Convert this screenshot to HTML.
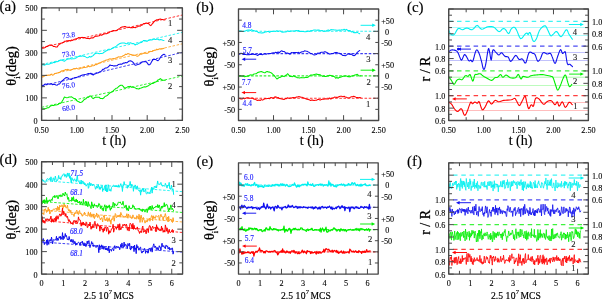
<!DOCTYPE html>
<html><head><meta charset="utf-8"><style>
html,body{margin:0;padding:0;background:#fff;overflow:hidden;}
svg{display:block;-webkit-font-smoothing:antialiased;will-change:transform;filter:blur(0.25px);}
</style></head><body>
<svg width="602" height="299" viewBox="0 0 602 299">
<rect width="602" height="299" fill="#fff"/>
<line x1="41.6" y1="47.6" x2="182.4" y2="15" stroke="#ff0000" stroke-width="1.0" stroke-dasharray="2.6 1.6" stroke-dashoffset="0" opacity="0.8"/>
<line x1="41.6" y1="64.5" x2="182.4" y2="32.4" stroke="#00f0f0" stroke-width="1.0" stroke-dasharray="2.6 1.6" stroke-dashoffset="0" opacity="0.8"/>
<line x1="41.6" y1="76.6" x2="182.4" y2="43.8" stroke="#ffa020" stroke-width="1.0" stroke-dasharray="2.6 1.6" stroke-dashoffset="0" opacity="0.8"/>
<line x1="41.6" y1="86" x2="182.4" y2="52.4" stroke="#1010ee" stroke-width="1.0" stroke-dasharray="2.6 1.6" stroke-dashoffset="0" opacity="0.8"/>
<line x1="41.6" y1="107.3" x2="182.4" y2="76" stroke="#00ee00" stroke-width="1.0" stroke-dasharray="2.6 1.6" stroke-dashoffset="0" opacity="0.8"/>
<polyline points="41.6,48.05 42.8,48.14 44,47.94 45.2,47.47 46.4,46.5 47.6,46.37 48.8,45.47 50,44.91 51.2,44.97 52.4,45.57 53.6,46.51 54.8,46.53 56,47.1 57.2,47.04 58.4,44.97 59.6,44.4 60.8,43.33 62,42.9 63.2,42.52 64.4,41.33 65.6,41.23 66.8,40.78 68,40.86 69.2,40.46 70.4,40.85 71.6,39.92 72.8,40.28 74,39.28 75.2,39.1 76.4,38.65 77.6,38.26 78.8,37.57 80,37.7 81.2,37.51 82.4,37.39 83.6,37.63 84.8,37.49 86,38.2 87.2,38.56 88.4,38.38 89.6,38.78 90.8,38.06 92,37.73 93.2,37.91 94.4,36.8 95.6,36.33 96.8,36.23 98,35.92 99.2,35.75 100.4,34.76 101.6,35.22 102.8,34.44 104,33.91 105.2,33.65 106.4,33.82 107.6,33.21 108.8,32.85 110,31.72 111.2,31.56 112.4,31.04 113.6,30.52 114.8,30.74 116,30.82 117.2,30.21 118.4,29.02 119.6,28.78 120.8,27.39 122,27.02 123.2,26.89 124.4,26.57 125.6,26.64 126.8,27.34 128,27.25 129.2,27.23 130.4,27.69 131.6,27.52 132.8,27.76 134,27.37 135.2,27.8 136.4,27.06 137.6,26.83 138.8,25.87 140,26.25 141.2,25.38 142.4,24.89 143.6,23.63 144.8,23.62 146,22.98 147.2,23.37 148.4,23.25 149.6,24.87 150.8,25.69 152,24.21 153.2,22.89 154.4,21.24 155.6,20.44 156.8,19.76 158,19.72 159.2,19.24 160.4,18.98 161.6,19.43 162.8,19.42 164,19.96 165.2,19.69" fill="none" stroke="#ff0000" stroke-width="1.05" stroke-linejoin="round" stroke-linecap="round" />
<polyline points="41.6,65.16 42.8,64.55 44,65.11 45.2,64.9 46.4,64.3 47.6,64.18 48.8,64.23 50,63.72 51.2,63.34 52.4,63.08 53.6,62.36 54.8,62.64 56,61.56 57.2,61.67 58.4,61.32 59.6,60.54 60.8,60.12 62,59.9 63.2,60.81 64.4,61.25 65.6,60.4 66.8,59.46 68,59.03 69.2,59.02 70.4,58.52 71.6,58.91 72.8,58.68 74,58.66 75.2,58.39 76.4,57.82 77.6,56.81 78.8,56.54 80,56.28 81.2,56.35 82.4,55.75 83.6,56.32 84.8,56.39 86,57.14 87.2,57.67 88.4,57.44 89.6,56.5 90.8,57.12 92,56.21 93.2,55.61 94.4,54.06 95.6,53.43 96.8,53.33 98,53.29 99.2,53.7 100.4,53.51 101.6,53.43 102.8,53.27 104,52.22 105.2,51.5 106.4,50.73 107.6,50.29 108.8,49.62 110,49.65 111.2,49.06 112.4,48.27 113.6,47.49 114.8,47.1 116,46.49 117.2,45.24 118.4,44.49 119.6,43.62 120.8,43.28 122,43.02 123.2,42.92 124.4,42.99 125.6,43.58 126.8,43.78 128,42.75 129.2,43.21 130.4,42.8 131.6,43.31 132.8,43.41 134,43.87 135.2,45 136.4,44.16 137.6,44.13 138.8,43.2 140,42.68 141.2,42.57 142.4,41.76 143.6,40.44 144.8,40.58 146,41.12 147.2,41.2 148.4,40.4 149.6,40.05 150.8,39.66 152,40.04 153.2,39.15 154.4,39.14 155.6,39.41 156.8,39.33 158,39.3 159.2,39.92 160.4,39.51 161.6,39.74 162.8,40.15 164,40.47" fill="none" stroke="#00f0f0" stroke-width="1.05" stroke-linejoin="round" stroke-linecap="round" />
<polyline points="41.6,76.99 42.8,77.1 44,76.39 45.2,75.45 46.4,75.29 47.6,75.5 48.8,75.09 50,75.32 51.2,74.18 52.4,75.13 53.6,74.79 54.8,73.49 56,73.51 57.2,73.05 58.4,72.64 59.6,72.48 60.8,71.47 62,70.73 63.2,70.62 64.4,70.32 65.6,69.5 66.8,69.73 68,69.35 69.2,70.11 70.4,70.37 71.6,69.69 72.8,69.3 74,68.51 75.2,68.86 76.4,68.14 77.6,68.83 78.8,68.94 80,68.63 81.2,68.06 82.4,67.96 83.6,67.4 84.8,67.49 86,67.3 87.2,67.03 88.4,66 89.6,66.68 90.8,66.48 92,65.82 93.2,65.84 94.4,65.57 95.6,64.21 96.8,64.65 98,63.68 99.2,62.93 100.4,62.8 101.6,61.99 102.8,61.58 104,60.9 105.2,60.52 106.4,59.91 107.6,59.72 108.8,59.23 110,58.86 111.2,59.34 112.4,58.74 113.6,58.56 114.8,58.66 116,58.03 117.2,57.51 118.4,56.84 119.6,57.09 120.8,56.65 122,56.46 123.2,55.72 124.4,55.22 125.6,54.15 126.8,54.46 128,53.53 129.2,53.9 130.4,54.45 131.6,54.64 132.8,54.9 134,55.39 135.2,55.07 136.4,55.94 137.6,56.28 138.8,55.61 140,54.02 141.2,54.34 142.4,53.85 143.6,53.18 144.8,52.92 146,53.16 147.2,53.41 148.4,52.71 149.6,51.75 150.8,51.59 152,51.47 153.2,50.74 154.4,50.27 155.6,50.23 156.8,49.14 158,49.67 159.2,48.88 160.4,49.06 161.6,48.99 162.8,48.65 164,48.3" fill="none" stroke="#ffa020" stroke-width="1.05" stroke-linejoin="round" stroke-linecap="round" />
<polyline points="41.6,87.13 42.8,85.34 44,84.99 45.2,83.91 46.4,84.45 47.6,83.68 48.8,84.01 50,84.12 51.2,83.71 52.4,84.69 53.6,84.15 54.8,84.54 56,84.98 57.2,85.15 58.4,84.02 59.6,83.93 60.8,82.24 62,80.86 63.2,79.98 64.4,78.9 65.6,77.84 66.8,77.44 68,77.94 69.2,79.05 70.4,79.16 71.6,79.45 72.8,78.18 74,77.96 75.2,77.42 76.4,77.53 77.6,77.11 78.8,76.32 80,76.09 81.2,75.55 82.4,74.99 83.6,74.87 84.8,74.44 86,74.33 87.2,74.1 88.4,73.54 89.6,73.76 90.8,73.21 92,74.24 93.2,74.98 94.4,74.02 95.6,73.66 96.8,73.08 98,72.99 99.2,72.04 100.4,71.65 101.6,70.91 102.8,69.39 104,69.19 105.2,68.01 106.4,67.92 107.6,67.43 108.8,66.54 110,64.93 111.2,65.55 112.4,65.41 113.6,66.06 114.8,65.86 116,65.69 117.2,65.66 118.4,64.44 119.6,64.19 120.8,64.04 122,64.19 123.2,63.11 124.4,63.12 125.6,62.46 126.8,62.86 128,61.79 129.2,60.95 130.4,60.81 131.6,61.18 132.8,62.2 134,63.47 135.2,65.24 136.4,64.97 137.6,64.62 138.8,64.17 140,63.8 141.2,62.85 142.4,61.86 143.6,61.79 144.8,61.65 146,61.59 147.2,62.92 148.4,64.65 149.6,64.83 150.8,63.35 152,61.1 153.2,59.36 154.4,59.32 155.6,59.47 156.8,60.17 158,60.75 159.2,59.49 160.4,57.24 161.6,55.75 162.8,54.84 164,54.29 165.2,55.11" fill="none" stroke="#1010ee" stroke-width="1.05" stroke-linejoin="round" stroke-linecap="round" />
<polyline points="41.6,108.77 42.8,109 44,108.75 45.2,108.72 46.4,108.24 47.6,107.7 48.8,107.77 50,106.4 51.2,105.81 52.4,105.37 53.6,105.6 54.8,105.03 56,104.9 57.2,104.81 58.4,104.3 59.6,103.2 60.8,103.29 62,101.48 63.2,99.41 64.4,96.94 65.6,97.42 66.8,97.82 68,97.39 69.2,96.92 70.4,96.93 71.6,96.83 72.8,97.67 74,98.57 75.2,98.52 76.4,100.24 77.6,101.22 78.8,101.73 80,102.46 81.2,102.23 82.4,101.78 83.6,100.1 84.8,99.27 86,98.72 87.2,97.32 88.4,97.33 89.6,96.03 90.8,95.92 92,97.54 93.2,98.63 94.4,97.77 95.6,97.12 96.8,97.28 98,97.19 99.2,97.19 100.4,98.53 101.6,98.6 102.8,98.63 104,97.74 105.2,96.26 106.4,95.88 107.6,95.2 108.8,93.94 110,92.91 111.2,92.23 112.4,91.83 113.6,90.37 114.8,89.41 116,88.29 117.2,88.06 118.4,86.76 119.6,85.83 120.8,85.23 122,85.23 123.2,86.33 124.4,87.9 125.6,87.69 126.8,87.43 128,86.62 129.2,86.85 130.4,86.3 131.6,87.24 132.8,86.85 134,87.53 135.2,87.84 136.4,88.63 137.6,88.79 138.8,89.05 140,88.23 141.2,87.94 142.4,87.44 143.6,87.06 144.8,86.75 146,86.92 147.2,86.2 148.4,85.68 149.6,84.8 150.8,84.17 152,83.4 153.2,83.46 154.4,82.48 155.6,81.95 156.8,81.08 158,79.95 159.2,79.51 160.4,78.56 161.6,79.74 162.8,80.11 164,80.34 165.2,80.28" fill="none" stroke="#00ee00" stroke-width="1.05" stroke-linejoin="round" stroke-linecap="round" />
<rect x="41.6" y="7.8" width="140.8" height="112.6" fill="none" stroke="#484848" stroke-width="1.35" stroke-linejoin="round"/>
<line x1="41.6" y1="120.4" x2="41.6" y2="115.1" stroke="#484848" stroke-width="1.0" />
<line x1="41.6" y1="7.8" x2="41.6" y2="13.1" stroke="#484848" stroke-width="1.0" />
<line x1="76.8" y1="120.4" x2="76.8" y2="115.1" stroke="#484848" stroke-width="1.0" />
<line x1="76.8" y1="7.8" x2="76.8" y2="13.1" stroke="#484848" stroke-width="1.0" />
<line x1="112" y1="120.4" x2="112" y2="115.1" stroke="#484848" stroke-width="1.0" />
<line x1="112" y1="7.8" x2="112" y2="13.1" stroke="#484848" stroke-width="1.0" />
<line x1="147.2" y1="120.4" x2="147.2" y2="115.1" stroke="#484848" stroke-width="1.0" />
<line x1="147.2" y1="7.8" x2="147.2" y2="13.1" stroke="#484848" stroke-width="1.0" />
<line x1="182.4" y1="120.4" x2="182.4" y2="115.1" stroke="#484848" stroke-width="1.0" />
<line x1="182.4" y1="7.8" x2="182.4" y2="13.1" stroke="#484848" stroke-width="1.0" />
<line x1="59.2" y1="120.4" x2="59.2" y2="117.1" stroke="#484848" stroke-width="1.0" />
<line x1="59.2" y1="7.8" x2="59.2" y2="11.1" stroke="#484848" stroke-width="1.0" />
<line x1="94.4" y1="120.4" x2="94.4" y2="117.1" stroke="#484848" stroke-width="1.0" />
<line x1="94.4" y1="7.8" x2="94.4" y2="11.1" stroke="#484848" stroke-width="1.0" />
<line x1="129.6" y1="120.4" x2="129.6" y2="117.1" stroke="#484848" stroke-width="1.0" />
<line x1="129.6" y1="7.8" x2="129.6" y2="11.1" stroke="#484848" stroke-width="1.0" />
<line x1="164.8" y1="120.4" x2="164.8" y2="117.1" stroke="#484848" stroke-width="1.0" />
<line x1="164.8" y1="7.8" x2="164.8" y2="11.1" stroke="#484848" stroke-width="1.0" />
<line x1="41.6" y1="120.4" x2="46.9" y2="120.4" stroke="#484848" stroke-width="1.0" />
<line x1="182.4" y1="120.4" x2="177.1" y2="120.4" stroke="#484848" stroke-width="1.0" />
<line x1="41.6" y1="97.88" x2="46.9" y2="97.88" stroke="#484848" stroke-width="1.0" />
<line x1="182.4" y1="97.88" x2="177.1" y2="97.88" stroke="#484848" stroke-width="1.0" />
<line x1="41.6" y1="75.36" x2="46.9" y2="75.36" stroke="#484848" stroke-width="1.0" />
<line x1="182.4" y1="75.36" x2="177.1" y2="75.36" stroke="#484848" stroke-width="1.0" />
<line x1="41.6" y1="52.84" x2="46.9" y2="52.84" stroke="#484848" stroke-width="1.0" />
<line x1="182.4" y1="52.84" x2="177.1" y2="52.84" stroke="#484848" stroke-width="1.0" />
<line x1="41.6" y1="30.32" x2="46.9" y2="30.32" stroke="#484848" stroke-width="1.0" />
<line x1="182.4" y1="30.32" x2="177.1" y2="30.32" stroke="#484848" stroke-width="1.0" />
<line x1="41.6" y1="7.8" x2="46.9" y2="7.8" stroke="#484848" stroke-width="1.0" />
<line x1="182.4" y1="7.8" x2="177.1" y2="7.8" stroke="#484848" stroke-width="1.0" />
<line x1="41.6" y1="109.14" x2="44.9" y2="109.14" stroke="#484848" stroke-width="1.0" />
<line x1="182.4" y1="109.14" x2="179.1" y2="109.14" stroke="#484848" stroke-width="1.0" />
<line x1="41.6" y1="86.62" x2="44.9" y2="86.62" stroke="#484848" stroke-width="1.0" />
<line x1="182.4" y1="86.62" x2="179.1" y2="86.62" stroke="#484848" stroke-width="1.0" />
<line x1="41.6" y1="64.1" x2="44.9" y2="64.1" stroke="#484848" stroke-width="1.0" />
<line x1="182.4" y1="64.1" x2="179.1" y2="64.1" stroke="#484848" stroke-width="1.0" />
<line x1="41.6" y1="41.58" x2="44.9" y2="41.58" stroke="#484848" stroke-width="1.0" />
<line x1="182.4" y1="41.58" x2="179.1" y2="41.58" stroke="#484848" stroke-width="1.0" />
<line x1="41.6" y1="19.06" x2="44.9" y2="19.06" stroke="#484848" stroke-width="1.0" />
<line x1="182.4" y1="19.06" x2="179.1" y2="19.06" stroke="#484848" stroke-width="1.0" />
<text x="37.6" y="123.8" font-size="8.2" text-anchor="end" fill="#000" stroke="#000" stroke-width="0.1" font-family='"Liberation Serif", serif' >0</text>
<text x="37.6" y="101.28" font-size="8.2" text-anchor="end" fill="#000" stroke="#000" stroke-width="0.1" font-family='"Liberation Serif", serif' >100</text>
<text x="37.6" y="78.76" font-size="8.2" text-anchor="end" fill="#000" stroke="#000" stroke-width="0.1" font-family='"Liberation Serif", serif' >200</text>
<text x="37.6" y="56.24" font-size="8.2" text-anchor="end" fill="#000" stroke="#000" stroke-width="0.1" font-family='"Liberation Serif", serif' >300</text>
<text x="37.6" y="33.72" font-size="8.2" text-anchor="end" fill="#000" stroke="#000" stroke-width="0.1" font-family='"Liberation Serif", serif' >400</text>
<text x="37.6" y="11.2" font-size="8.2" text-anchor="end" fill="#000" stroke="#000" stroke-width="0.1" font-family='"Liberation Serif", serif' >500</text>
<text x="41.6" y="132.6" font-size="8.2" text-anchor="middle" fill="#000" stroke="#000" stroke-width="0.1" font-family='"Liberation Serif", serif' >0.50</text>
<text x="76.8" y="132.6" font-size="8.2" text-anchor="middle" fill="#000" stroke="#000" stroke-width="0.1" font-family='"Liberation Serif", serif' >1.00</text>
<text x="112" y="132.6" font-size="8.2" text-anchor="middle" fill="#000" stroke="#000" stroke-width="0.1" font-family='"Liberation Serif", serif' >1.50</text>
<text x="147.2" y="132.6" font-size="8.2" text-anchor="middle" fill="#000" stroke="#000" stroke-width="0.1" font-family='"Liberation Serif", serif' >2.00</text>
<text x="182.4" y="132.6" font-size="8.2" text-anchor="middle" fill="#000" stroke="#000" stroke-width="0.1" font-family='"Liberation Serif", serif' >2.50</text>
<text x="114.2" y="144.8" font-size="14" text-anchor="middle" fill="#000" stroke="#000" stroke-width="0.15" font-family='"Liberation Serif", serif' >t (h)</text>
<text x="-0.6" y="10.7" font-size="15" text-anchor="start" fill="#000" stroke="#000" stroke-width="0.15" font-family='"Liberation Serif", serif' >(a)</text>
<text x="68.6" y="37.6" font-size="7.5" text-anchor="middle" fill="#1a1aff" stroke="#1a1aff" stroke-width="0.12" font-family='"Liberation Serif", serif' transform="rotate(-8 68.6 35)">73.8</text>
<text x="68.5" y="56.4" font-size="7.5" text-anchor="middle" fill="#1a1aff" stroke="#1a1aff" stroke-width="0.12" font-family='"Liberation Serif", serif' transform="rotate(-8 68.5 53.8)">73.0</text>
<text x="68.5" y="87.8" font-size="7.5" text-anchor="middle" fill="#1a1aff" stroke="#1a1aff" stroke-width="0.12" font-family='"Liberation Serif", serif' transform="rotate(-8 68.5 85.2)">76.0</text>
<text x="68.6" y="110.3" font-size="7.5" text-anchor="middle" fill="#1a1aff" stroke="#1a1aff" stroke-width="0.12" font-family='"Liberation Serif", serif' transform="rotate(-8 68.6 107.7)">68.0</text>
<text x="170.1" y="26.4" font-size="8.6" text-anchor="middle" fill="#222" stroke="#222" stroke-width="0.1" font-family='"Liberation Serif", serif' >1</text>
<text x="170.1" y="43" font-size="8.6" text-anchor="middle" fill="#222" stroke="#222" stroke-width="0.1" font-family='"Liberation Serif", serif' >4</text>
<text x="170.1" y="63.1" font-size="8.6" text-anchor="middle" fill="#222" stroke="#222" stroke-width="0.1" font-family='"Liberation Serif", serif' >3</text>
<text x="170.1" y="88.8" font-size="8.6" text-anchor="middle" fill="#222" stroke="#222" stroke-width="0.1" font-family='"Liberation Serif", serif' >2</text>
<text transform="translate(16.3 66) rotate(-90)" font-size="14.5" text-anchor="middle" font-family='"Liberation Serif", serif' fill="#000" stroke="#000" stroke-width="0.25">θ<tspan font-size="8.5" dy="4">i</tspan><tspan dy="-4" dx="-0.3">(deg)</tspan></text>
<line x1="238.5" y1="98.2" x2="378.6" y2="98.2" stroke="#ff0000" stroke-width="1.1" stroke-dasharray="2.6 1.6" stroke-dashoffset="0" opacity="0.8"/>
<line x1="238.5" y1="75.9" x2="378.6" y2="75.9" stroke="#00ee00" stroke-width="1.1" stroke-dasharray="2.6 1.6" stroke-dashoffset="0" opacity="0.8"/>
<line x1="238.5" y1="53.6" x2="378.6" y2="53.6" stroke="#1010ee" stroke-width="1.1" stroke-dasharray="2.6 1.6" stroke-dashoffset="0" opacity="0.8"/>
<line x1="238.5" y1="31.3" x2="378.6" y2="31.3" stroke="#00f0f0" stroke-width="1.1" stroke-dasharray="2.6 1.6" stroke-dashoffset="0" opacity="0.8"/>
<polyline points="238.5,30.99 239.7,30.91 240.9,31 242.1,31.28 243.3,31.46 244.5,31.19 245.7,30.85 246.9,30.26 248.1,30.12 249.3,29.99 250.5,30.51 251.7,29.61 252.9,30.61 254.1,30.61 255.3,31.3 256.5,30.99 257.7,31.96 258.9,32.7 260.1,32.81 261.3,33.1 262.5,32.87 263.7,32.68 264.9,32.02 266.1,31.97 267.3,31.55 268.5,31.48 269.7,32.39 270.9,31.31 272.1,31.45 273.3,31.21 274.5,31.28 275.7,31.37 276.9,30.67 278.1,31.44 279.3,30.97 280.5,31.07 281.7,32.1 282.9,32.14 284.1,32.1 285.3,31.93 286.5,31.85 287.7,30.8 288.9,31.56 290.1,31.14 291.3,31.09 292.5,31.06 293.7,30.91 294.9,31.03 296.1,30.54 297.3,30.76 298.5,30.53 299.7,31.47 300.9,31.15 302.1,31.58 303.3,31.48 304.5,31.71 305.7,31.68 306.9,31.37 308.1,31.12 309.3,31.49 310.5,30.69 311.7,30.64 312.9,30.36 314.1,30.01 315.3,29.92 316.5,30.25 317.7,30.12 318.9,30.05 320.1,30.39 321.3,30.64 322.5,30.62 323.7,31.35 324.9,30.9 326.1,31.23 327.3,30.18 328.5,30 329.7,30.73 330.9,29.57 332.1,29.79 333.3,29.71 334.5,29.9 335.7,30.01 336.9,30.19 338.1,30.24 339.3,29.94 340.5,30.33 341.7,29.79 342.9,30.11 344.1,29.25 345.3,30.2 346.5,29.33 347.7,30.46 348.9,30.64 350.1,30.63 351.3,31.93 352.5,31.52 353.7,32.73 354.9,32.39 356.1,32.84 357.3,32.38 358.5,33.11 359.7,33.66" fill="none" stroke="#00f0f0" stroke-width="1.05" stroke-linejoin="round" stroke-linecap="round" />
<polyline points="238.5,54.78 239.7,53.81 240.9,53.21 242.1,53.57 243.3,54.56 244.5,54.46 245.7,54.57 246.9,54.75 248.1,54.61 249.3,54.67 250.5,54.29 251.7,54.58 252.9,54.06 254.1,54.39 255.3,54.48 256.5,54.86 257.7,55.54 258.9,54.39 260.1,54.34 261.3,54.44 262.5,54.67 263.7,54.12 264.9,53.76 266.1,54.15 267.3,53.78 268.5,53.71 269.7,53.53 270.9,53.58 272.1,53.02 273.3,52.83 274.5,52.98 275.7,52.33 276.9,52.76 278.1,51.95 279.3,52.79 280.5,51.39 281.7,50.81 282.9,51.45 284.1,51.54 285.3,52.42 286.5,53.21 287.7,53.01 288.9,53.73 290.1,54.17 291.3,52.51 292.5,52.78 293.7,52.49 294.9,52.57 296.1,52.51 297.3,52.7 298.5,52.34 299.7,53.15 300.9,52.3 302.1,51.67 303.3,51.8 304.5,50.86 305.7,51.09 306.9,51.22 308.1,51.9 309.3,52.56 310.5,53.48 311.7,53.6 312.9,54.38 314.1,54.95 315.3,54.68 316.5,54.57 317.7,52.94 318.9,53.28 320.1,52.79 321.3,52.17 322.5,52.2 323.7,52.25 324.9,51.64 326.1,52.11 327.3,52.71 328.5,53.43 329.7,54.16 330.9,53.74 332.1,53.53 333.3,53.41 334.5,52.82 335.7,52.58 336.9,52.4 338.1,53.18 339.3,53.26 340.5,53.8 341.7,54.6 342.9,55.5 344.1,55.47 345.3,55.71 346.5,55.11 347.7,53.98 348.9,53.9 350.1,54.55 351.3,53.95 352.5,55.16 353.7,55.61 354.9,55.38 356.1,53.93 357.3,52.45 358.5,51.35 359.7,50.44" fill="none" stroke="#1010ee" stroke-width="1.05" stroke-linejoin="round" stroke-linecap="round" />
<polyline points="238.5,76.44 239.7,75.89 240.9,75.97 242.1,76.28 243.3,76.05 244.5,76.79 245.7,76.49 246.9,76.26 248.1,76.23 249.3,75.35 250.5,74.87 251.7,75.08 252.9,74.72 254.1,73.93 255.3,73.85 256.5,73.62 257.7,72.46 258.9,72.13 260.1,71.71 261.3,71.57 262.5,72.03 263.7,72.5 264.9,72.86 266.1,71.78 267.3,71.58 268.5,72.1 269.7,72.14 270.9,72.65 272.1,73.54 273.3,74.75 274.5,75.83 275.7,77.49 276.9,79.04 278.1,78.23 279.3,77.39 280.5,77.34 281.7,76.08 282.9,76.35 284.1,76.61 285.3,75.56 286.5,74.99 287.7,73.71 288.9,75.19 290.1,76.54 291.3,76.52 292.5,76.7 293.7,75.79 294.9,76.63 296.1,76.9 297.3,77.71 298.5,77.76 299.7,78.06 300.9,77.63 302.1,77.85 303.3,77.84 304.5,77.74 305.7,77.29 306.9,77.51 308.1,77.13 309.3,76.14 310.5,75.05 311.7,74.98 312.9,74.94 314.1,74.63 315.3,74.23 316.5,74.08 317.7,74.57 318.9,74.62 320.1,74.65 321.3,75.59 322.5,76.35 323.7,76.05 324.9,76.59 326.1,76.45 327.3,76.02 328.5,75.87 329.7,75.23 330.9,75.42 332.1,76.14 333.3,76.37 334.5,76.74 335.7,78.21 336.9,77.57 338.1,78.23 339.3,77.37 340.5,77.13 341.7,76.71 342.9,76.25 344.1,76.3 345.3,75.91 346.5,75.95 347.7,76.62 348.9,76.42 350.1,76.93 351.3,76.05 352.5,75.98 353.7,75.52 354.9,74.97 356.1,74.67 357.3,74.35 358.5,75.36 359.7,76.09 360.9,75.72" fill="none" stroke="#00ee00" stroke-width="1.05" stroke-linejoin="round" stroke-linecap="round" />
<polyline points="238.5,98.54 239.7,98.59 240.9,98.95 242.1,99.08 243.3,98.13 244.5,98.87 245.7,98.31 246.9,97.74 248.1,97.84 249.3,98.2 250.5,98.21 251.7,98.08 252.9,98.13 254.1,99.24 255.3,99.03 256.5,100.08 257.7,100.53 258.9,99.93 260.1,100.47 261.3,99.62 262.5,100.11 263.7,99.51 264.9,98.55 266.1,98.7 267.3,98.58 268.5,98.54 269.7,98.67 270.9,97.44 272.1,97.74 273.3,98.39 274.5,97.11 275.7,96.89 276.9,97.28 278.1,97.42 279.3,98.51 280.5,98.62 281.7,99.07 282.9,99.25 284.1,99.47 285.3,98.59 286.5,98.63 287.7,97.72 288.9,98.4 290.1,98 291.3,97.98 292.5,97.64 293.7,97.61 294.9,97.76 296.1,97.12 297.3,96.93 298.5,96.64 299.7,96.72 300.9,97.28 302.1,97.31 303.3,97.87 304.5,98.25 305.7,98.78 306.9,99.28 308.1,99.45 309.3,99.84 310.5,100.4 311.7,100.07 312.9,100.14 314.1,100.57 315.3,100.17 316.5,100.23 317.7,99.54 318.9,99.57 320.1,100.13 321.3,99.47 322.5,99.25 323.7,99.32 324.9,98.89 326.1,98.83 327.3,98.92 328.5,98.99 329.7,97.94 330.9,99.09 332.1,97.97 333.3,97.9 334.5,97.09 335.7,97.22 336.9,97.39 338.1,97.3 339.3,96.55 340.5,96.27 341.7,96.19 342.9,96.87 344.1,96.28 345.3,97.04 346.5,97.23 347.7,97.91 348.9,97.82 350.1,97.4 351.3,96.79 352.5,96.76 353.7,96.3 354.9,96.64 356.1,97.4 357.3,97.43 358.5,97.81 359.7,97.62 360.9,97.67" fill="none" stroke="#ff0000" stroke-width="1.05" stroke-linejoin="round" stroke-linecap="round" />
<rect x="238.5" y="9" width="140.1" height="111.5" fill="none" stroke="#484848" stroke-width="1.35" stroke-linejoin="round"/>
<line x1="238.5" y1="120.5" x2="238.5" y2="115.2" stroke="#484848" stroke-width="1.0" />
<line x1="238.5" y1="9" x2="238.5" y2="14.3" stroke="#484848" stroke-width="1.0" />
<line x1="273.52" y1="120.5" x2="273.52" y2="115.2" stroke="#484848" stroke-width="1.0" />
<line x1="273.52" y1="9" x2="273.52" y2="14.3" stroke="#484848" stroke-width="1.0" />
<line x1="308.55" y1="120.5" x2="308.55" y2="115.2" stroke="#484848" stroke-width="1.0" />
<line x1="308.55" y1="9" x2="308.55" y2="14.3" stroke="#484848" stroke-width="1.0" />
<line x1="343.58" y1="120.5" x2="343.58" y2="115.2" stroke="#484848" stroke-width="1.0" />
<line x1="343.58" y1="9" x2="343.58" y2="14.3" stroke="#484848" stroke-width="1.0" />
<line x1="378.6" y1="120.5" x2="378.6" y2="115.2" stroke="#484848" stroke-width="1.0" />
<line x1="378.6" y1="9" x2="378.6" y2="14.3" stroke="#484848" stroke-width="1.0" />
<line x1="256.01" y1="120.5" x2="256.01" y2="117.2" stroke="#484848" stroke-width="1.0" />
<line x1="256.01" y1="9" x2="256.01" y2="12.3" stroke="#484848" stroke-width="1.0" />
<line x1="291.04" y1="120.5" x2="291.04" y2="117.2" stroke="#484848" stroke-width="1.0" />
<line x1="291.04" y1="9" x2="291.04" y2="12.3" stroke="#484848" stroke-width="1.0" />
<line x1="326.06" y1="120.5" x2="326.06" y2="117.2" stroke="#484848" stroke-width="1.0" />
<line x1="326.06" y1="9" x2="326.06" y2="12.3" stroke="#484848" stroke-width="1.0" />
<line x1="361.09" y1="120.5" x2="361.09" y2="117.2" stroke="#484848" stroke-width="1.0" />
<line x1="361.09" y1="9" x2="361.09" y2="12.3" stroke="#484848" stroke-width="1.0" />
<line x1="238.5" y1="98.2" x2="243.8" y2="98.2" stroke="#484848" stroke-width="1.0" />
<line x1="378.6" y1="98.2" x2="373.3" y2="98.2" stroke="#484848" stroke-width="1.0" />
<line x1="238.5" y1="75.9" x2="243.8" y2="75.9" stroke="#484848" stroke-width="1.0" />
<line x1="378.6" y1="75.9" x2="373.3" y2="75.9" stroke="#484848" stroke-width="1.0" />
<line x1="238.5" y1="53.6" x2="243.8" y2="53.6" stroke="#484848" stroke-width="1.0" />
<line x1="378.6" y1="53.6" x2="373.3" y2="53.6" stroke="#484848" stroke-width="1.0" />
<line x1="238.5" y1="31.3" x2="243.8" y2="31.3" stroke="#484848" stroke-width="1.0" />
<line x1="378.6" y1="31.3" x2="373.3" y2="31.3" stroke="#484848" stroke-width="1.0" />
<line x1="238.5" y1="109.35" x2="241.8" y2="109.35" stroke="#484848" stroke-width="1.0" />
<line x1="378.6" y1="109.35" x2="375.3" y2="109.35" stroke="#484848" stroke-width="1.0" />
<line x1="238.5" y1="87.05" x2="241.8" y2="87.05" stroke="#484848" stroke-width="1.0" />
<line x1="378.6" y1="87.05" x2="375.3" y2="87.05" stroke="#484848" stroke-width="1.0" />
<line x1="238.5" y1="64.75" x2="241.8" y2="64.75" stroke="#484848" stroke-width="1.0" />
<line x1="378.6" y1="64.75" x2="375.3" y2="64.75" stroke="#484848" stroke-width="1.0" />
<line x1="238.5" y1="42.45" x2="241.8" y2="42.45" stroke="#484848" stroke-width="1.0" />
<line x1="378.6" y1="42.45" x2="375.3" y2="42.45" stroke="#484848" stroke-width="1.0" />
<line x1="238.5" y1="20.15" x2="241.8" y2="20.15" stroke="#484848" stroke-width="1.0" />
<line x1="378.6" y1="20.15" x2="375.3" y2="20.15" stroke="#484848" stroke-width="1.0" />
<text x="238.5" y="132.6" font-size="8.2" text-anchor="middle" fill="#000" stroke="#000" stroke-width="0.1" font-family='"Liberation Serif", serif' >0.50</text>
<text x="273.52" y="132.6" font-size="8.2" text-anchor="middle" fill="#000" stroke="#000" stroke-width="0.1" font-family='"Liberation Serif", serif' >1.00</text>
<text x="308.55" y="132.6" font-size="8.2" text-anchor="middle" fill="#000" stroke="#000" stroke-width="0.1" font-family='"Liberation Serif", serif' >1.50</text>
<text x="343.58" y="132.6" font-size="8.2" text-anchor="middle" fill="#000" stroke="#000" stroke-width="0.1" font-family='"Liberation Serif", serif' >2.00</text>
<text x="378.6" y="132.6" font-size="8.2" text-anchor="middle" fill="#000" stroke="#000" stroke-width="0.1" font-family='"Liberation Serif", serif' >2.50</text>
<text x="311.7" y="144.8" font-size="14" text-anchor="middle" fill="#000" stroke="#000" stroke-width="0.15" font-family='"Liberation Serif", serif' >t (h)</text>
<text x="196.2" y="12" font-size="15" text-anchor="start" fill="#000" stroke="#000" stroke-width="0.15" font-family='"Liberation Serif", serif' >(b)</text>
<text x="235.2" y="45.85" font-size="8.2" text-anchor="end" fill="#000" stroke="#000" stroke-width="0.1" font-family='"Liberation Serif", serif' >+50</text>
<text x="235.2" y="57" font-size="8.2" text-anchor="end" fill="#000" stroke="#000" stroke-width="0.1" font-family='"Liberation Serif", serif' >0</text>
<text x="235.2" y="68.15" font-size="8.2" text-anchor="end" fill="#000" stroke="#000" stroke-width="0.1" font-family='"Liberation Serif", serif' >-50</text>
<text x="235.2" y="90.45" font-size="8.2" text-anchor="end" fill="#000" stroke="#000" stroke-width="0.1" font-family='"Liberation Serif", serif' >+50</text>
<text x="235.2" y="101.6" font-size="8.2" text-anchor="end" fill="#000" stroke="#000" stroke-width="0.1" font-family='"Liberation Serif", serif' >0</text>
<text x="235.2" y="112.75" font-size="8.2" text-anchor="end" fill="#000" stroke="#000" stroke-width="0.1" font-family='"Liberation Serif", serif' >-50</text>
<text x="381.2" y="23.55" font-size="8.2" text-anchor="start" fill="#000" stroke="#000" stroke-width="0.1" font-family='"Liberation Serif", serif' >+50</text>
<text x="387" y="34.7" font-size="8.2" text-anchor="middle" fill="#000" stroke="#000" stroke-width="0.1" font-family='"Liberation Serif", serif' >0</text>
<text x="381.2" y="45.85" font-size="8.2" text-anchor="start" fill="#000" stroke="#000" stroke-width="0.1" font-family='"Liberation Serif", serif' >-50</text>
<text x="381.2" y="68.15" font-size="8.2" text-anchor="start" fill="#000" stroke="#000" stroke-width="0.1" font-family='"Liberation Serif", serif' >+50</text>
<text x="387" y="79.3" font-size="8.2" text-anchor="middle" fill="#000" stroke="#000" stroke-width="0.1" font-family='"Liberation Serif", serif' >0</text>
<text x="381.2" y="90.45" font-size="8.2" text-anchor="start" fill="#000" stroke="#000" stroke-width="0.1" font-family='"Liberation Serif", serif' >-50</text>
<text x="242.2" y="27.9" font-size="7.4" text-anchor="start" fill="#1a1aff" stroke="#1a1aff" stroke-width="0.12" font-family='"Liberation Serif", serif' >4.8</text>
<text x="242.8" y="52.5" font-size="7.4" text-anchor="start" fill="#1a1aff" stroke="#1a1aff" stroke-width="0.12" font-family='"Liberation Serif", serif' >5.7</text>
<text x="241.8" y="84.6" font-size="7.4" text-anchor="start" fill="#1a1aff" stroke="#1a1aff" stroke-width="0.12" font-family='"Liberation Serif", serif' >7.7</text>
<text x="242.6" y="106.3" font-size="7.4" text-anchor="start" fill="#1a1aff" stroke="#1a1aff" stroke-width="0.12" font-family='"Liberation Serif", serif' >4.4</text>
<text x="368.1" y="39.7" font-size="8.6" text-anchor="middle" fill="#222" stroke="#222" stroke-width="0.1" font-family='"Liberation Serif", serif' >4</text>
<text x="368.3" y="61.8" font-size="8.6" text-anchor="middle" fill="#222" stroke="#222" stroke-width="0.1" font-family='"Liberation Serif", serif' >3</text>
<text x="368.6" y="85" font-size="8.6" text-anchor="middle" fill="#222" stroke="#222" stroke-width="0.1" font-family='"Liberation Serif", serif' >2</text>
<text x="368.1" y="107.2" font-size="8.6" text-anchor="middle" fill="#222" stroke="#222" stroke-width="0.1" font-family='"Liberation Serif", serif' >1</text>
<line x1="360.6" y1="25.3" x2="373.64" y2="25.3" stroke="#00f0f0" stroke-width="0.95" />
<polygon points="375.8,25.3 372.2,23.6 372.2,27" fill="#00f0f0"/>
<line x1="256.2" y1="59.2" x2="243.76" y2="59.2" stroke="#1010ee" stroke-width="0.95" />
<polygon points="241.6,59.2 245.2,57.5 245.2,60.9" fill="#1010ee"/>
<line x1="360.6" y1="70.2" x2="373.64" y2="70.2" stroke="#00ee00" stroke-width="0.95" />
<polygon points="375.8,70.2 372.2,68.5 372.2,71.9" fill="#00ee00"/>
<line x1="256.2" y1="92.6" x2="243.56" y2="92.6" stroke="#ff0000" stroke-width="0.95" />
<polygon points="241.4,92.6 245,90.9 245,94.3" fill="#ff0000"/>
<text transform="translate(214.2 66.6) rotate(-90)" font-size="14.5" text-anchor="middle" font-family='"Liberation Serif", serif' fill="#000" stroke="#000" stroke-width="0.25">θ<tspan font-size="8.5" dy="4">i</tspan><tspan dy="-4" dx="-0.3">(deg)</tspan></text>
<line x1="448.7" y1="95.72" x2="588.4" y2="95.72" stroke="#ff0000" stroke-width="1.25" stroke-dasharray="4.5 3.8" stroke-dashoffset="0" opacity="0.75"/>
<line x1="448.7" y1="102.3" x2="588.4" y2="102.3" stroke="#ff0000" stroke-width="0.6" opacity="0.55"/>
<line x1="448.7" y1="110.3" x2="588.4" y2="110.3" stroke="#ff0000" stroke-width="0.6" opacity="0.55"/>
<line x1="448.7" y1="70.94" x2="588.4" y2="70.94" stroke="#00ee00" stroke-width="1.25" stroke-dasharray="4.5 3.8" stroke-dashoffset="0" opacity="0.75"/>
<line x1="448.7" y1="77.2" x2="588.4" y2="77.2" stroke="#00ee00" stroke-width="0.6" opacity="0.55"/>
<line x1="448.7" y1="85.3" x2="588.4" y2="85.3" stroke="#00ee00" stroke-width="0.6" opacity="0.55"/>
<line x1="448.7" y1="46.17" x2="588.4" y2="46.17" stroke="#1010ee" stroke-width="1.25" stroke-dasharray="4.5 3.8" stroke-dashoffset="0" opacity="0.75"/>
<line x1="448.7" y1="52.3" x2="588.4" y2="52.3" stroke="#1010ee" stroke-width="0.6" opacity="0.55"/>
<line x1="448.7" y1="60.3" x2="588.4" y2="60.3" stroke="#1010ee" stroke-width="0.6" opacity="0.55"/>
<line x1="448.7" y1="21.39" x2="588.4" y2="21.39" stroke="#00f0f0" stroke-width="1.25" stroke-dasharray="4.5 3.8" stroke-dashoffset="0" opacity="0.75"/>
<line x1="448.7" y1="27.5" x2="588.4" y2="27.5" stroke="#00f0f0" stroke-width="0.6" opacity="0.55"/>
<line x1="448.7" y1="35.5" x2="588.4" y2="35.5" stroke="#00f0f0" stroke-width="0.6" opacity="0.55"/>
<polyline points="448.7,29.7 448.8,30.17 448.94,30.84 449.15,31.59 449.5,32.3 450.02,33.03 450.69,33.82 451.41,34.5 452.1,34.9 452.73,35.03 453.34,34.96 453.99,34.63 454.7,34 455.49,32.79 456.34,31.12 457.25,29.51 458.2,28.5 459.22,28.4 460.3,28.86 461.41,29.45 462.5,29.7 463.57,29.4 464.64,28.82 465.72,28.25 466.8,28 467.94,28.25 469.11,28.82 470.22,29.4 471.2,29.7 471.96,29.65 472.56,29.4 473.13,29 473.8,28.5 474.59,27.7 475.44,26.64 476.35,25.73 477.3,25.4 478.28,26.01 479.29,27.26 480.38,28.52 481.6,29.2 483,28.97 484.54,28.22 486.14,27.36 487.7,26.8 489.22,26.59 490.75,26.52 492.25,26.67 493.7,27.1 495.1,28.11 496.47,29.56 497.78,30.9 499,31.6 500.13,31.28 501.18,30.32 502.14,29.24 503,28.6 503.72,28.5 504.31,28.66 504.87,29.05 505.5,29.6 506.25,30.59 507.05,31.94 507.85,33.13 508.6,33.6 509.26,33.01 509.86,31.72 510.45,30.24 511.1,29.1 511.83,28.33 512.6,27.69 513.37,27.28 514.1,27.2 514.73,27.46 515.29,28 515.88,28.87 516.6,30.1 517.48,32.14 518.48,34.81 519.53,37.26 520.6,38.6 521.75,38.31 522.98,36.94 524.14,35.28 525.1,34.1 525.8,33.55 526.32,33.23 526.73,33.09 527.1,33.1 527.4,33.38 527.6,33.91 527.8,34.41 528.1,34.6 528.5,34.1 528.97,33.16 529.5,32.44 530.1,32.6 530.8,34.23 531.59,36.85 532.41,39.47 533.2,41.1 533.96,41.48 534.71,41.13 535.45,40.27 536.2,39.1 536.95,37.43 537.7,35.22 538.45,32.95 539.2,31.1 539.95,29.78 540.69,28.73 541.44,27.9 542.2,27.2 543,26.55 543.83,26.01 544.64,25.74 545.4,25.9 546.09,26.64 546.73,27.84 547.36,29.25 548,30.6 548.67,32.03 549.35,33.6 550.03,34.97 550.7,35.8 551.34,35.88 551.96,35.44 552.6,34.75 553.3,34.1 554.07,33.33 554.89,32.37 555.76,31.62 556.7,31.5 557.71,32.54 558.79,34.38 559.92,36.08 561.1,36.7 562.4,35.54 563.81,33.25 565.16,30.93 566.3,29.7 567.11,29.98 567.71,31.14 568.25,32.68 568.9,34.1 569.79,35.47 570.81,36.98 571.75,38.35 572.4,39.3" fill="none" stroke="#00f0f0" stroke-width="1.1" stroke-linejoin="round" stroke-linecap="round" />
<polyline points="448.7,51.8 449.15,51.42 449.8,50.87 450.57,50.34 451.4,50 452.34,49.9 453.41,49.94 454.47,50.11 455.4,50.4 456.13,50.72 456.74,51.11 457.33,51.72 458,52.7 458.8,54.5 459.66,56.89 460.54,59.04 461.4,60.1 462.21,59.34 463.01,57.38 463.82,55.38 464.7,54.5 465.72,55.38 466.83,57.29 467.9,59.35 468.8,60.7 469.45,60.99 469.93,60.72 470.35,60.29 470.8,60.1 471.27,60.53 471.72,61.29 472.21,61.72 472.8,61.2 473.55,59.03 474.41,55.73 475.29,52.46 476.1,50.4 476.82,49.9 477.49,50.33 478.14,51.37 478.8,52.7 479.49,54.45 480.19,56.71 480.87,59.14 481.5,61.4 482.05,63.69 482.54,66.08 483.02,68.09 483.5,69.2 483.98,69.35 484.46,68.79 484.95,67.48 485.5,65.4 486.16,61.84 486.89,57.04 487.61,52.42 488.2,49.4 488.61,48.48 488.91,48.86 489.18,50.01 489.5,51.4 489.9,53.54 490.33,56.51 490.77,59.09 491.2,60.1 491.59,58.6 491.95,55.43 492.36,52.07 492.9,50 493.63,49.78 494.49,50.57 495.38,51.75 496.2,52.7 496.92,53.41 497.59,54.16 498.24,54.76 498.9,55 499.56,54.61 500.21,53.77 500.88,52.97 501.6,52.7 502.38,53.25 503.21,54.31 504.06,55.46 504.9,56.3 505.74,56.61 506.59,56.66 507.42,56.72 508.2,57.1 508.87,58.17 509.46,59.68 510.1,60.97 510.9,61.4 511.96,60.39 513.21,58.42 514.47,56.44 515.6,55.4 516.54,55.8 517.38,57.05 518.18,58.48 519,59.4 519.85,59.51 520.71,59.2 521.56,58.89 522.4,59 523.23,60.03 524.06,61.62 524.88,62.9 525.7,63 526.51,61.17 527.31,58.06 528.13,54.84 529,52.7 530,52.09 531.08,52.33 532.12,52.93 533,53.4 533.65,53.56 534.14,53.69 534.58,54 535.1,54.7 535.71,56.15 536.36,58.13 537.03,60 537.7,61.1 538.37,61.2 539.04,60.68 539.72,59.76 540.4,58.7 541.04,57.28 541.67,55.47 542.33,53.77 543.1,52.7 544.02,52.56 545.06,53.01 546.12,53.64 547.1,54 548,53.88 548.87,53.53 549.68,53.27 550.4,53.4 550.98,54.03 551.44,54.99 551.88,56.15 552.4,57.4 553.03,59.07 553.71,61.11 554.41,62.8 555.1,63.4 555.77,62.47 556.45,60.47 557.12,58.09 557.8,56 558.49,54.09 559.19,52.1 559.87,50.46 560.5,49.6 561.05,49.95 561.54,51.19 562.02,52.58 562.5,53.4 563.02,53.37 563.56,52.89 564.07,52.32 564.5,52 564.8,51.78 565.01,51.57 565.21,51.74 565.5,52.7 565.9,54.99 566.36,58.26 566.87,61.53 567.4,63.8 567.96,64.63 568.55,64.59 569.17,64.29 569.8,64.3 570.52,64.82 571.3,65.53 572.01,66.22 572.5,66.7" fill="none" stroke="#1010ee" stroke-width="1.1" stroke-linejoin="round" stroke-linecap="round" />
<polyline points="448.7,76.8 449.19,77.44 449.89,78.35 450.67,79.39 451.4,80.4 452.05,81.56 452.7,82.88 453.35,83.95 454,84.4 454.67,83.9 455.34,82.73 456.02,81.4 456.7,80.4 457.38,79.84 458.05,79.46 458.72,79.23 459.4,79.1 460.06,79.22 460.71,79.57 461.38,79.83 462.1,79.7 462.9,78.91 463.75,77.69 464.6,76.48 465.4,75.7 466.13,75.6 466.83,75.91 467.49,76.29 468.1,76.4 468.63,75.93 469.1,75.14 469.57,74.52 470.1,74.6 470.74,75.94 471.45,78.12 472.16,80.17 472.8,81.1 473.35,80.33 473.84,78.49 474.32,76.43 474.8,75 475.27,74.47 475.72,74.36 476.21,74.43 476.8,74.4 477.55,74.17 478.41,73.89 479.29,73.69 480.1,73.7 480.8,74.01 481.44,74.53 482.09,75.14 482.8,75.7 483.56,76.18 484.34,76.66 485.2,77.15 486.2,77.7 487.44,78.45 488.85,79.34 490.26,80.09 491.5,80.4 492.5,80.05 493.37,79.24 494.15,78.34 494.9,77.7 495.59,77.49 496.22,77.5 496.83,77.51 497.5,77.3 498.26,76.66 499.07,75.76 499.87,74.95 500.6,74.6 501.21,75.01 501.74,75.92 502.27,76.85 502.9,77.3 503.64,76.96 504.44,76.15 505.3,75.34 506.2,75 507.14,75.39 508.12,76.21 509.17,77.1 510.3,77.7 511.6,77.97 513.04,78.08 514.43,78 515.6,77.7 516.46,76.92 517.11,75.76 517.69,74.75 518.3,74.4 518.99,75.16 519.69,76.66 520.37,78.17 521,79 521.49,78.77 521.87,77.93 522.33,76.97 523,76.4 524.02,76.44 525.27,76.79 526.56,77.17 527.7,77.3 528.58,77.05 529.33,76.6 530.09,76.1 531,75.7 532.11,75.45 533.35,75.28 534.66,75.13 536,75 537.41,74.86 538.89,74.72 540.36,74.62 541.7,74.6 542.85,74.67 543.89,74.8 544.9,74.98 546,75.2 547.29,75.46 548.69,75.76 550.02,76.08 551.1,76.4 551.8,76.56 552.25,76.62 552.62,76.9 553.1,77.7 553.74,79.31 554.45,81.51 555.16,83.8 555.8,85.7 556.33,87.27 556.8,88.71 557.27,89.75 557.8,90.1 558.43,89.55 559.11,88.29 559.82,86.69 560.5,85.1 561.16,83.47 561.82,81.65 562.47,79.88 563.1,78.4 563.72,77.06 564.32,75.82 564.91,75.01 565.5,75 566.1,76.16 566.69,78.22 567.27,80.51 567.8,82.4 568.25,83.85 568.65,85.16 569.05,86.16 569.5,86.7 570.09,86.54 570.76,85.82 571.37,84.97 571.8,84.4" fill="none" stroke="#00ee00" stroke-width="1.1" stroke-linejoin="round" stroke-linecap="round" />
<polyline points="448.7,102.3 449.2,102.55 449.91,102.89 450.71,103.39 451.5,104.1 452.25,105.16 453.03,106.51 453.82,107.87 454.6,109 455.36,109.92 456.11,110.73 456.88,111.3 457.7,111.5 458.6,110.95 459.56,109.85 460.51,108.87 461.4,108.7 462.21,109.9 462.97,111.97 463.7,114.03 464.4,115.2 465.03,115.26 465.61,114.67 466.2,113.57 466.9,112.1 467.79,109.86 468.79,106.91 469.78,104.11 470.6,102.3 471.17,101.96 471.58,102.55 471.95,103.39 472.4,103.8 472.98,103.51 473.61,102.91 474.27,102.31 474.9,102 475.52,102.17 476.14,102.64 476.74,103.11 477.3,103.3 477.78,102.88 478.21,102.08 478.66,101.49 479.2,101.7 479.87,103.29 480.62,105.79 481.42,108.26 482.2,109.7 482.97,109.77 483.74,109.01 484.52,107.83 485.3,106.6 486.07,105.13 486.85,103.3 487.63,101.67 488.4,100.8 489.16,101.15 489.92,102.32 490.69,103.55 491.5,104.1 492.36,103.55 493.26,102.38 494.18,101.14 495.1,100.4 495.99,100.43 496.87,100.9 497.79,101.44 498.8,101.7 499.88,101.54 501.02,101.17 502.27,100.74 503.7,100.4 505.46,100.22 507.47,100.11 509.45,99.99 511.1,99.8 512.33,99.41 513.3,98.89 514.1,98.48 514.8,98.4 515.36,98.74 515.76,99.38 516.12,100.2 516.6,101.1 517.24,102.29 517.96,103.76 518.7,105.02 519.4,105.6 520.01,105.28 520.57,104.33 521.15,103.07 521.8,101.8 522.58,100.25 523.44,98.37 524.28,96.81 525,96.2 525.55,96.94 525.98,98.61 526.38,100.65 526.8,102.5 527.25,104.3 527.71,106.24 528.18,107.87 528.7,108.7 529.29,108.29 529.93,106.99 530.58,105.55 531.2,104.7 531.77,104.9 532.33,105.68 532.86,106.34 533.4,106.2 533.91,104.74 534.39,102.43 534.9,100.09 535.5,98.5 536.18,97.87 536.93,97.77 537.75,98.09 538.7,98.7 539.85,99.91 541.15,101.67 542.45,103.34 543.6,104.3 544.49,104.21 545.24,103.47 545.96,102.52 546.8,101.8 547.81,101.28 548.91,100.79 550.03,100.5 551.1,100.6 552.12,101.42 553.12,102.76 554.06,104.04 554.9,104.7 555.61,104.3 556.22,103.23 556.77,102.18 557.3,101.8 557.78,102.59 558.21,104.09 558.65,105.55 559.2,106.2 559.89,105.48 560.68,103.92 561.5,102.4 562.3,101.8 563.06,102.75 563.81,104.65 564.58,106.52 565.4,107.4 566.32,106.68 567.3,104.99 568.28,103.21 569.2,102.2 570.1,102.34 570.99,103.12 571.76,104.07 572.3,104.7" fill="none" stroke="#ff0000" stroke-width="1.1" stroke-linejoin="round" stroke-linecap="round" />
<rect x="448.7" y="9" width="139.7" height="111.5" fill="none" stroke="#484848" stroke-width="1.35" stroke-linejoin="round"/>
<line x1="448.7" y1="120.5" x2="448.7" y2="115.2" stroke="#484848" stroke-width="1.0" />
<line x1="448.7" y1="9" x2="448.7" y2="14.3" stroke="#484848" stroke-width="1.0" />
<line x1="483.62" y1="120.5" x2="483.62" y2="115.2" stroke="#484848" stroke-width="1.0" />
<line x1="483.62" y1="9" x2="483.62" y2="14.3" stroke="#484848" stroke-width="1.0" />
<line x1="518.55" y1="120.5" x2="518.55" y2="115.2" stroke="#484848" stroke-width="1.0" />
<line x1="518.55" y1="9" x2="518.55" y2="14.3" stroke="#484848" stroke-width="1.0" />
<line x1="553.48" y1="120.5" x2="553.48" y2="115.2" stroke="#484848" stroke-width="1.0" />
<line x1="553.48" y1="9" x2="553.48" y2="14.3" stroke="#484848" stroke-width="1.0" />
<line x1="588.4" y1="120.5" x2="588.4" y2="115.2" stroke="#484848" stroke-width="1.0" />
<line x1="588.4" y1="9" x2="588.4" y2="14.3" stroke="#484848" stroke-width="1.0" />
<line x1="466.16" y1="120.5" x2="466.16" y2="117.2" stroke="#484848" stroke-width="1.0" />
<line x1="466.16" y1="9" x2="466.16" y2="12.3" stroke="#484848" stroke-width="1.0" />
<line x1="501.09" y1="120.5" x2="501.09" y2="117.2" stroke="#484848" stroke-width="1.0" />
<line x1="501.09" y1="9" x2="501.09" y2="12.3" stroke="#484848" stroke-width="1.0" />
<line x1="536.01" y1="120.5" x2="536.01" y2="117.2" stroke="#484848" stroke-width="1.0" />
<line x1="536.01" y1="9" x2="536.01" y2="12.3" stroke="#484848" stroke-width="1.0" />
<line x1="570.94" y1="120.5" x2="570.94" y2="117.2" stroke="#484848" stroke-width="1.0" />
<line x1="570.94" y1="9" x2="570.94" y2="12.3" stroke="#484848" stroke-width="1.0" />
<line x1="448.7" y1="120.5" x2="453.7" y2="120.5" stroke="#484848" stroke-width="1.0" />
<line x1="588.4" y1="120.5" x2="583.4" y2="120.5" stroke="#484848" stroke-width="1.0" />
<line x1="448.7" y1="108.11" x2="453.7" y2="108.11" stroke="#484848" stroke-width="1.0" />
<line x1="588.4" y1="108.11" x2="583.4" y2="108.11" stroke="#484848" stroke-width="1.0" />
<line x1="448.7" y1="95.72" x2="453.7" y2="95.72" stroke="#484848" stroke-width="1.0" />
<line x1="588.4" y1="95.72" x2="583.4" y2="95.72" stroke="#484848" stroke-width="1.0" />
<line x1="448.7" y1="83.33" x2="453.7" y2="83.33" stroke="#484848" stroke-width="1.0" />
<line x1="588.4" y1="83.33" x2="583.4" y2="83.33" stroke="#484848" stroke-width="1.0" />
<line x1="448.7" y1="70.94" x2="453.7" y2="70.94" stroke="#484848" stroke-width="1.0" />
<line x1="588.4" y1="70.94" x2="583.4" y2="70.94" stroke="#484848" stroke-width="1.0" />
<line x1="448.7" y1="58.56" x2="453.7" y2="58.56" stroke="#484848" stroke-width="1.0" />
<line x1="588.4" y1="58.56" x2="583.4" y2="58.56" stroke="#484848" stroke-width="1.0" />
<line x1="448.7" y1="46.17" x2="453.7" y2="46.17" stroke="#484848" stroke-width="1.0" />
<line x1="588.4" y1="46.17" x2="583.4" y2="46.17" stroke="#484848" stroke-width="1.0" />
<line x1="448.7" y1="33.78" x2="453.7" y2="33.78" stroke="#484848" stroke-width="1.0" />
<line x1="588.4" y1="33.78" x2="583.4" y2="33.78" stroke="#484848" stroke-width="1.0" />
<line x1="448.7" y1="21.39" x2="453.7" y2="21.39" stroke="#484848" stroke-width="1.0" />
<line x1="588.4" y1="21.39" x2="583.4" y2="21.39" stroke="#484848" stroke-width="1.0" />
<line x1="448.7" y1="9" x2="453.7" y2="9" stroke="#484848" stroke-width="1.0" />
<line x1="588.4" y1="9" x2="583.4" y2="9" stroke="#484848" stroke-width="1.0" />
<line x1="448.7" y1="114.31" x2="452" y2="114.31" stroke="#484848" stroke-width="1.0" />
<line x1="588.4" y1="114.31" x2="585.1" y2="114.31" stroke="#484848" stroke-width="1.0" />
<line x1="448.7" y1="101.92" x2="452" y2="101.92" stroke="#484848" stroke-width="1.0" />
<line x1="588.4" y1="101.92" x2="585.1" y2="101.92" stroke="#484848" stroke-width="1.0" />
<line x1="448.7" y1="89.53" x2="452" y2="89.53" stroke="#484848" stroke-width="1.0" />
<line x1="588.4" y1="89.53" x2="585.1" y2="89.53" stroke="#484848" stroke-width="1.0" />
<line x1="448.7" y1="77.14" x2="452" y2="77.14" stroke="#484848" stroke-width="1.0" />
<line x1="588.4" y1="77.14" x2="585.1" y2="77.14" stroke="#484848" stroke-width="1.0" />
<line x1="448.7" y1="64.75" x2="452" y2="64.75" stroke="#484848" stroke-width="1.0" />
<line x1="588.4" y1="64.75" x2="585.1" y2="64.75" stroke="#484848" stroke-width="1.0" />
<line x1="448.7" y1="52.36" x2="452" y2="52.36" stroke="#484848" stroke-width="1.0" />
<line x1="588.4" y1="52.36" x2="585.1" y2="52.36" stroke="#484848" stroke-width="1.0" />
<line x1="448.7" y1="39.97" x2="452" y2="39.97" stroke="#484848" stroke-width="1.0" />
<line x1="588.4" y1="39.97" x2="585.1" y2="39.97" stroke="#484848" stroke-width="1.0" />
<line x1="448.7" y1="27.58" x2="452" y2="27.58" stroke="#484848" stroke-width="1.0" />
<line x1="588.4" y1="27.58" x2="585.1" y2="27.58" stroke="#484848" stroke-width="1.0" />
<line x1="448.7" y1="15.19" x2="452" y2="15.19" stroke="#484848" stroke-width="1.0" />
<line x1="588.4" y1="15.19" x2="585.1" y2="15.19" stroke="#484848" stroke-width="1.0" />
<text x="448.7" y="132.6" font-size="8.2" text-anchor="middle" fill="#000" stroke="#000" stroke-width="0.1" font-family='"Liberation Serif", serif' >0.50</text>
<text x="483.62" y="132.6" font-size="8.2" text-anchor="middle" fill="#000" stroke="#000" stroke-width="0.1" font-family='"Liberation Serif", serif' >1.00</text>
<text x="518.55" y="132.6" font-size="8.2" text-anchor="middle" fill="#000" stroke="#000" stroke-width="0.1" font-family='"Liberation Serif", serif' >1.50</text>
<text x="553.48" y="132.6" font-size="8.2" text-anchor="middle" fill="#000" stroke="#000" stroke-width="0.1" font-family='"Liberation Serif", serif' >2.00</text>
<text x="588.4" y="132.6" font-size="8.2" text-anchor="middle" fill="#000" stroke="#000" stroke-width="0.1" font-family='"Liberation Serif", serif' >2.50</text>
<text x="520.6" y="144.8" font-size="14" text-anchor="middle" fill="#000" stroke="#000" stroke-width="0.15" font-family='"Liberation Serif", serif' >t (h)</text>
<text x="406.9" y="11.9" font-size="15" text-anchor="start" fill="#000" stroke="#000" stroke-width="0.15" font-family='"Liberation Serif", serif' >(c)</text>
<text x="445.3" y="49.57" font-size="8.2" text-anchor="end" fill="#000" stroke="#000" stroke-width="0.1" font-family='"Liberation Serif", serif' >1.0</text>
<text x="445.3" y="61.96" font-size="8.2" text-anchor="end" fill="#000" stroke="#000" stroke-width="0.1" font-family='"Liberation Serif", serif' >0.8</text>
<text x="445.3" y="74.34" font-size="8.2" text-anchor="end" fill="#000" stroke="#000" stroke-width="0.1" font-family='"Liberation Serif", serif' >0.6</text>
<text x="445.3" y="99.12" font-size="8.2" text-anchor="end" fill="#000" stroke="#000" stroke-width="0.1" font-family='"Liberation Serif", serif' >1.0</text>
<text x="445.3" y="111.51" font-size="8.2" text-anchor="end" fill="#000" stroke="#000" stroke-width="0.1" font-family='"Liberation Serif", serif' >0.8</text>
<text x="445.3" y="123.9" font-size="8.2" text-anchor="end" fill="#000" stroke="#000" stroke-width="0.1" font-family='"Liberation Serif", serif' >0.6</text>
<text x="592" y="24.79" font-size="8.2" text-anchor="start" fill="#000" stroke="#000" stroke-width="0.1" font-family='"Liberation Serif", serif' >1.0</text>
<text x="592" y="37.18" font-size="8.2" text-anchor="start" fill="#000" stroke="#000" stroke-width="0.1" font-family='"Liberation Serif", serif' >0.8</text>
<text x="592" y="49.57" font-size="8.2" text-anchor="start" fill="#000" stroke="#000" stroke-width="0.1" font-family='"Liberation Serif", serif' >0.6</text>
<text x="592" y="74.34" font-size="8.2" text-anchor="start" fill="#000" stroke="#000" stroke-width="0.1" font-family='"Liberation Serif", serif' >1.0</text>
<text x="592" y="86.73" font-size="8.2" text-anchor="start" fill="#000" stroke="#000" stroke-width="0.1" font-family='"Liberation Serif", serif' >0.8</text>
<text x="592" y="99.12" font-size="8.2" text-anchor="start" fill="#000" stroke="#000" stroke-width="0.1" font-family='"Liberation Serif", serif' >0.6</text>
<text x="575" y="35.3" font-size="8.6" text-anchor="middle" fill="#222" stroke="#222" stroke-width="0.1" font-family='"Liberation Serif", serif' >4</text>
<text x="575.2" y="60.4" font-size="8.6" text-anchor="middle" fill="#222" stroke="#222" stroke-width="0.1" font-family='"Liberation Serif", serif' >3</text>
<text x="575.2" y="84" font-size="8.6" text-anchor="middle" fill="#222" stroke="#222" stroke-width="0.1" font-family='"Liberation Serif", serif' >2</text>
<text x="575.4" y="109" font-size="8.6" text-anchor="middle" fill="#222" stroke="#222" stroke-width="0.1" font-family='"Liberation Serif", serif' >1</text>
<line x1="568.9" y1="24.5" x2="581.64" y2="24.5" stroke="#00f0f0" stroke-width="0.95" />
<polygon points="583.8,24.5 580.2,22.8 580.2,26.2" fill="#00f0f0"/>
<line x1="470.9" y1="49.1" x2="459.56" y2="49.1" stroke="#1010ee" stroke-width="0.95" />
<polygon points="457.4,49.1 461,47.4 461,50.8" fill="#1010ee"/>
<line x1="569.1" y1="74.1" x2="581.74" y2="74.1" stroke="#00ee00" stroke-width="0.95" />
<polygon points="583.9,74.1 580.3,72.4 580.3,75.8" fill="#00ee00"/>
<line x1="466.8" y1="98.9" x2="454.16" y2="98.9" stroke="#ff0000" stroke-width="0.95" />
<polygon points="452,98.9 455.6,97.2 455.6,100.6" fill="#ff0000"/>
<circle cx="458.3" cy="49.1" r="1.35" fill="#1010ee"/>
<text transform="translate(429.7 69) rotate(-90)" font-size="14" text-anchor="middle" font-family='"Liberation Serif", serif' fill="#000" stroke="#000" stroke-width="0.25">r / R</text>
<line x1="41.6" y1="180.5" x2="182.6" y2="191.7" stroke="#00f0f0" stroke-width="1.0" stroke-dasharray="2.6 1.6" stroke-dashoffset="0" opacity="0.8"/>
<line x1="41.6" y1="201.5" x2="182.6" y2="212.5" stroke="#00ee00" stroke-width="1.0" stroke-dasharray="2.6 1.6" stroke-dashoffset="0" opacity="0.8"/>
<line x1="41.6" y1="210" x2="182.6" y2="222" stroke="#ffa020" stroke-width="1.0" stroke-dasharray="2.6 1.6" stroke-dashoffset="0" opacity="0.8"/>
<line x1="41.6" y1="220.5" x2="182.6" y2="232.5" stroke="#ff0000" stroke-width="1.0" stroke-dasharray="2.6 1.6" stroke-dashoffset="0" opacity="0.8"/>
<line x1="41.6" y1="242" x2="182.6" y2="252.1" stroke="#1010ee" stroke-width="1.0" stroke-dasharray="2.6 1.6" stroke-dashoffset="0" opacity="0.8"/>
<polyline points="41.6,178.67 42.15,179.46 42.7,179.47 43.25,181.47 43.8,180.66 44.35,181.38 44.9,182.45 45.45,182.25 46,181.34 46.55,179.41 47.1,178.71 47.65,178.64 48.2,179.52 48.75,180.08 49.3,178.46 49.85,178.17 50.4,180.73 50.95,176.82 51.5,179.8 52.05,180.86 52.6,181.65 53.15,177.8 53.7,178.29 54.25,180.67 54.8,179.12 55.35,176.08 55.9,178.78 56.45,181.29 57,181.12 57.55,180.37 58.1,178.63 58.65,175.46 59.2,178.8 59.75,177.89 60.3,177.81 60.85,179.62 61.4,176.35 61.95,175.7 62.5,176.09 63.05,174.52 63.6,173.86 64.15,173.79 64.7,176.57 65.25,176.16 65.8,174.45 66.35,177.44 66.9,175.69 67.45,172.94 68,176.44 68.55,174.91 69.1,172.98 69.65,178.26 70.2,175.83 70.75,180.57 71.3,183.03 71.85,177.65 72.4,178.92 72.95,180.09 73.5,181.22 74.05,179.48 74.6,178.79 75.15,180.64 75.7,180.2 76.25,181.77 76.8,178.25 77.35,175.43 77.9,181.11 78.45,181.38 79,180.6 79.55,183.45 80.1,183.92 80.65,181.62 81.2,180.03 81.75,184.04 82.3,182.45 82.85,180.92 83.4,183.54 83.95,182.27 84.5,184.84 85.05,183.69 85.6,184.61 86.15,186.18 86.7,185.08 87.25,184.15 87.8,183.46 88.35,188.35 88.9,187.23 89.45,182.39 90,182.98 90.55,185.71 91.1,183.38 91.65,184.25 92.2,185.86 92.75,185 93.3,184.9 93.85,184.65 94.4,185.72 94.95,186.7 95.5,189.25 96.05,188.17 96.6,186.02 97.15,188.19 97.7,187.05 98.25,184.44 98.8,187.13 99.35,189.32 99.9,186.59 100.45,189.35 101,187.11 101.55,187.71 102.1,185.52 102.65,191.51 103.2,188.79 103.75,189.97 104.3,187.58 104.85,186.05 105.4,190.93 105.95,184.78 106.5,191.76 107.05,188.5 107.6,191.75 108.15,184.67 108.7,186.08 109.25,190.72 109.8,189.55 110.35,189.61 110.9,191.27 111.45,187.56 112,186.58 112.55,186.58 113.1,185.44 113.65,185.03 114.2,185.79 114.75,186.16 115.3,186.91 115.85,185.34 116.4,187.03 116.95,185.44 117.5,186.39 118.05,187.3 118.6,184.79 119.15,186.87 119.7,187.1 120.25,185.11 120.8,183.64 121.35,185.81 121.9,185.89 122.45,191.46 123,184.67 123.55,185.59 124.1,181.64 124.65,184.87 125.2,184.64 125.75,184.94 126.3,184.68 126.85,185.4 127.4,188.28 127.95,184.95 128.5,187.21 129.05,184.85 129.6,185.18 130.15,181.45 130.7,185.55 131.25,186.81 131.8,184.14 132.35,185.53 132.9,185.55 133.45,191.29 134,186.23 134.55,186.96 135.1,184.92 135.65,185.97 136.2,189.34 136.75,186.83 137.3,185.85 137.85,189.25 138.4,190.29 138.95,190.92 139.5,191.33 140.05,189.66 140.6,195.16 141.15,189.9 141.7,191.74 142.25,188.84 142.8,190.18 143.35,188.75 143.9,192.03 144.45,191.13 145,190.31 145.55,188.8 146.1,193.52 146.65,193.83 147.2,193.69 147.75,191.89 148.3,193.12 148.85,193.35 149.4,192.49 149.95,193.91 150.5,190.59 151.05,190.76 151.6,187.21 152.15,193.15 152.7,187.64 153.25,189.14 153.8,189.27 154.35,186.12 154.9,186.8 155.45,187.59 156,185.82 156.55,187.98 157.1,184.65 157.65,180.94 158.2,184.05 158.75,184.5 159.3,184.16 159.85,184.79 160.4,183.03 160.95,182.42 161.5,185.23 162.05,184.75 162.6,186.31 163.15,185.21 163.7,185.99 164.25,185.81 164.8,186.39 165.35,183.32 165.9,184.86 166.45,185.37 167,188.11 167.55,185.07 168.1,186.15 168.65,185.31 169.2,182.36 169.75,188.66 170.3,188.06 170.85,189.48 171.4,185.11 171.95,188.27 172.5,189.9 173.05,188.78 173.6,194.38" fill="none" stroke="#00f0f0" stroke-width="1.0" stroke-linejoin="round" stroke-linecap="round" stroke-linejoin="miter" stroke-miterlimit="2"/>
<polyline points="41.6,201.33 42.15,203.57 42.7,203.19 43.25,199.92 43.8,203.01 44.35,199.65 44.9,203.77 45.45,200.6 46,202.1 46.55,197.48 47.1,203.62 47.65,200.55 48.2,201.87 48.75,200.33 49.3,199.81 49.85,201.24 50.4,201.67 50.95,199.55 51.5,199.38 52.05,200.62 52.6,197.67 53.15,196.4 53.7,196.39 54.25,197.69 54.8,195.33 55.35,197.13 55.9,197.56 56.45,196.05 57,195.31 57.55,197.81 58.1,198.86 58.65,196.33 59.2,194.91 59.75,196.44 60.3,196.68 60.85,194.69 61.4,196.05 61.95,196.79 62.5,194.43 63.05,193.18 63.6,195.08 64.15,194.7 64.7,196.04 65.25,192.04 65.8,194.01 66.35,194.53 66.9,193.76 67.45,197.95 68,199.51 68.55,197.44 69.1,201.48 69.65,200.68 70.2,200.55 70.75,200.32 71.3,201.35 71.85,197.26 72.4,197.93 72.95,200.81 73.5,196.68 74.05,200.78 74.6,200.01 75.15,202.14 75.7,200.15 76.25,198.94 76.8,202.01 77.35,200.04 77.9,202.93 78.45,201.89 79,202.98 79.55,201.12 80.1,203.99 80.65,203.09 81.2,201.64 81.75,203.05 82.3,204.19 82.85,205.21 83.4,199.21 83.95,203.75 84.5,203.34 85.05,202.67 85.6,201.37 86.15,205.78 86.7,201.56 87.25,205.13 87.8,206.73 88.35,201.74 88.9,204.26 89.45,205.05 90,205.37 90.55,207.69 91.1,208.64 91.65,201.82 92.2,204.02 92.75,206.34 93.3,207.95 93.85,205.89 94.4,203.82 94.95,206.04 95.5,205.81 96.05,205.82 96.6,205.21 97.15,207.47 97.7,207.16 98.25,206.27 98.8,203.4 99.35,203.79 99.9,205.25 100.45,208.56 101,206.3 101.55,206.58 102.1,209.55 102.65,208.22 103.2,211.08 103.75,207.41 104.3,206.49 104.85,204.73 105.4,209.68 105.95,211.2 106.5,205.72 107.05,205.98 107.6,208.16 108.15,205.92 108.7,207.25 109.25,204.87 109.8,208.73 110.35,210.33 110.9,207.94 111.45,209.1 112,206.24 112.55,207.13 113.1,202.21 113.65,202.93 114.2,206.45 114.75,203.43 115.3,205.01 115.85,204.63 116.4,205.85 116.95,204.75 117.5,204.94 118.05,202.79 118.6,202 119.15,202.15 119.7,202.79 120.25,201.84 120.8,203.1 121.35,204.08 121.9,204.86 122.45,203.96 123,201.27 123.55,204.82 124.1,205.79 124.65,207.78 125.2,207.21 125.75,205.18 126.3,205.2 126.85,210.26 127.4,208.15 127.95,210.23 128.5,210.91 129.05,205.71 129.6,207.96 130.15,208.17 130.7,208.43 131.25,208.49 131.8,207.89 132.35,207.83 132.9,204.81 133.45,207.21 134,206.16 134.55,207.76 135.1,209.33 135.65,208.89 136.2,209.44 136.75,208.72 137.3,208.97 137.85,208.81 138.4,208.08 138.95,208.83 139.5,208.43 140.05,210.15 140.6,209.61 141.15,210.75 141.7,209.45 142.25,211.69 142.8,209.06 143.35,209.45 143.9,210.76 144.45,210.45 145,212.13 145.55,210.21 146.1,208.97 146.65,209.02 147.2,212.55 147.75,210.03 148.3,207.62 148.85,209.5 149.4,206.45 149.95,209.7 150.5,206.06 151.05,209.44 151.6,209.34 152.15,205.53 152.7,208.38 153.25,209.22 153.8,207.85 154.35,207.07 154.9,207.89 155.45,206.38 156,206.73 156.55,205.94 157.1,207.34 157.65,204.54 158.2,207.86 158.75,205.76 159.3,204.93 159.85,207.79 160.4,210.41 160.95,208.97 161.5,206.19 162.05,208.25 162.6,206.05 163.15,206.53 163.7,206.85 164.25,202.67 164.8,206.91 165.35,204.76 165.9,205.53 166.45,204.37 167,204.54 167.55,205.82 168.1,209.25 168.65,210.92 169.2,207.97 169.75,210.08 170.3,207.73 170.85,204.86 171.4,208.8 171.95,209.6 172.5,208.28 173.05,209.86 173.6,210.61" fill="none" stroke="#00ee00" stroke-width="1.0" stroke-linejoin="round" stroke-linecap="round" stroke-linejoin="miter" stroke-miterlimit="2"/>
<polyline points="41.6,212.26 42.15,214 42.7,213.3 43.25,213.11 43.8,214.57 44.35,209.32 44.9,210.15 45.45,208.7 46,210.67 46.55,212.46 47.1,210.53 47.65,211.55 48.2,207.3 48.75,211.09 49.3,209.28 49.85,214.06 50.4,212.26 50.95,212.14 51.5,210.09 52.05,211.06 52.6,211.08 53.15,209.26 53.7,208.97 54.25,209.64 54.8,208.73 55.35,208.63 55.9,209.08 56.45,208.16 57,210.73 57.55,206.25 58.1,210.21 58.65,207.21 59.2,210.31 59.75,205.12 60.3,206.87 60.85,206.23 61.4,206.55 61.95,204.79 62.5,205.49 63.05,208.4 63.6,205.82 64.15,204.01 64.7,206.72 65.25,205.23 65.8,207.36 66.35,208.18 66.9,207.16 67.45,205.18 68,208.81 68.55,210.78 69.1,209.45 69.65,211.27 70.2,212.59 70.75,210.19 71.3,213.67 71.85,214.66 72.4,213.97 72.95,214.41 73.5,214.47 74.05,216.49 74.6,212.91 75.15,212.59 75.7,213.62 76.25,211.05 76.8,210.16 77.35,211.64 77.9,214.17 78.45,214.62 79,211.09 79.55,210.51 80.1,213.37 80.65,213.64 81.2,213.93 81.75,215.24 82.3,216.28 82.85,214.54 83.4,215.29 83.95,214.72 84.5,212.1 85.05,214.63 85.6,215.39 86.15,215.48 86.7,215.33 87.25,215.94 87.8,216.24 88.35,211.86 88.9,213.92 89.45,216.12 90,216.32 90.55,212.47 91.1,217.26 91.65,214.3 92.2,214.96 92.75,216.24 93.3,217.47 93.85,213.91 94.4,218.64 94.95,217.01 95.5,215.5 96.05,216.4 96.6,212.98 97.15,215.81 97.7,217.54 98.25,216.18 98.8,214.92 99.35,217.68 99.9,218.17 100.45,219.95 101,218.1 101.55,217.72 102.1,219.19 102.65,221.92 103.2,217.49 103.75,215.68 104.3,215.1 104.85,220.28 105.4,219.36 105.95,220.99 106.5,218.9 107.05,217.55 107.6,221.44 108.15,221.38 108.7,218.64 109.25,217.73 109.8,221.37 110.35,220.17 110.9,224.24 111.45,218.97 112,218.93 112.55,219.48 113.1,216.35 113.65,217.19 114.2,221.21 114.75,217.46 115.3,213.53 115.85,214.48 116.4,217.54 116.95,217.41 117.5,216.42 118.05,215.01 118.6,216.34 119.15,216.58 119.7,214.77 120.25,217.22 120.8,212.4 121.35,213.77 121.9,215.43 122.45,215.66 123,216.23 123.55,216.23 124.1,217.51 124.65,216.38 125.2,215.97 125.75,217.09 126.3,216.38 126.85,213.69 127.4,215.48 127.95,218.26 128.5,213.98 129.05,216.45 129.6,216.09 130.15,215.62 130.7,215.87 131.25,218.32 131.8,218.58 132.35,218.3 132.9,214.87 133.45,216.68 134,217.55 134.55,218.66 135.1,218.21 135.65,218.61 136.2,219.21 136.75,215.58 137.3,216.12 137.85,217.91 138.4,219.2 138.95,214.28 139.5,215.43 140.05,222.42 140.6,216.86 141.15,215.11 141.7,218.23 142.25,222.28 142.8,219.75 143.35,217.39 143.9,219.93 144.45,220.56 145,223.15 145.55,222.1 146.1,220.31 146.65,221.87 147.2,222 147.75,219.49 148.3,220.19 148.85,219.98 149.4,218.14 149.95,221.22 150.5,218.6 151.05,217.55 151.6,215.4 152.15,215.9 152.7,220.71 153.25,215.76 153.8,218.43 154.35,216.85 154.9,218.28 155.45,218.27 156,215.59 156.55,216.26 157.1,216.76 157.65,216.59 158.2,216.12 158.75,215.4 159.3,220.22 159.85,217.92 160.4,216.31 160.95,214.26 161.5,216.56 162.05,216.23 162.6,217.53 163.15,220.47 163.7,216.71 164.25,217.02 164.8,215.39 165.35,213.57 165.9,216.02 166.45,220.28 167,218.31 167.55,217.09 168.1,221.96 168.65,216.28 169.2,220.28 169.75,220.63 170.3,220.08 170.85,218.97 171.4,219.73 171.95,222.05 172.5,222.49 173.05,217.67 173.6,220.78" fill="none" stroke="#ffa020" stroke-width="1.0" stroke-linejoin="round" stroke-linecap="round" stroke-linejoin="miter" stroke-miterlimit="2"/>
<polyline points="41.6,223.88 42.15,216.57 42.7,222.18 43.25,220.52 43.8,222.7 44.35,220.92 44.9,223.31 45.45,219.86 46,218.67 46.55,220.43 47.1,220.07 47.65,218.74 48.2,219.02 48.75,220.85 49.3,220.9 49.85,218.72 50.4,218.83 50.95,216.12 51.5,222.28 52.05,218.73 52.6,221.41 53.15,219.61 53.7,222.23 54.25,218.31 54.8,219.03 55.35,221.11 55.9,216.72 56.45,220.68 57,215.73 57.55,218.54 58.1,219.22 58.65,217.08 59.2,215.39 59.75,213.97 60.3,214.23 60.85,216.22 61.4,215.42 61.95,212.83 62.5,208.04 63.05,214.91 63.6,211.35 64.15,213.26 64.7,213.15 65.25,216.26 65.8,213.56 66.35,217.02 66.9,217.31 67.45,216.22 68,219.03 68.55,221.38 69.1,219.55 69.65,221.53 70.2,220.93 70.75,223.68 71.3,223.31 71.85,223.97 72.4,222.75 72.95,224.59 73.5,220.75 74.05,220.9 74.6,220.54 75.15,222.81 75.7,220.7 76.25,220.53 76.8,222.71 77.35,223.2 77.9,221.86 78.45,216.89 79,219.5 79.55,219.71 80.1,219.9 80.65,221.77 81.2,226.21 81.75,222.74 82.3,222.32 82.85,225.26 83.4,222.13 83.95,224.9 84.5,223.7 85.05,225.16 85.6,226.02 86.15,221.87 86.7,222.54 87.25,227.59 87.8,227.35 88.35,225.12 88.9,224.4 89.45,226 90,222.09 90.55,225.72 91.1,229.28 91.65,226.53 92.2,228.16 92.75,225.39 93.3,226.18 93.85,227.73 94.4,222.56 94.95,221.33 95.5,225.11 96.05,226.11 96.6,228.61 97.15,223.99 97.7,223.68 98.25,226.21 98.8,225.41 99.35,225.68 99.9,231.19 100.45,225.82 101,228.38 101.55,226.89 102.1,229.95 102.65,229.16 103.2,232.27 103.75,228.52 104.3,230.78 104.85,227.12 105.4,227.54 105.95,226.89 106.5,231.35 107.05,228.46 107.6,227.17 108.15,228.89 108.7,234.21 109.25,230.67 109.8,233 110.35,232.43 110.9,230.85 111.45,228.91 112,228.83 112.55,228.08 113.1,224.31 113.65,232.21 114.2,229.89 114.75,228.41 115.3,227.81 115.85,226.56 116.4,229.37 116.95,227.02 117.5,227.9 118.05,224.24 118.6,227.34 119.15,230.19 119.7,223.72 120.25,227.88 120.8,229.87 121.35,228.11 121.9,227.79 122.45,225.73 123,224.36 123.55,225.68 124.1,225.22 124.65,224.01 125.2,226.02 125.75,226.22 126.3,224.12 126.85,225.83 127.4,230.31 127.95,228.14 128.5,227.17 129.05,231.08 129.6,226.3 130.15,223.16 130.7,223.69 131.25,224.39 131.8,227.65 132.35,229.01 132.9,223.42 133.45,229.41 134,225.26 134.55,228.24 135.1,228.91 135.65,229.12 136.2,228.62 136.75,229.15 137.3,226.92 137.85,229.6 138.4,231 138.95,231.03 139.5,233.44 140.05,231.53 140.6,230.99 141.15,232.77 141.7,230.31 142.25,227.62 142.8,226.04 143.35,232.35 143.9,231.12 144.45,231.68 145,229.77 145.55,231.02 146.1,233.81 146.65,231.04 147.2,228.46 147.75,229.5 148.3,232.59 148.85,227.95 149.4,225.77 149.95,225.57 150.5,226.9 151.05,230.52 151.6,229.02 152.15,227.27 152.7,226.2 153.25,228.33 153.8,228.28 154.35,227.58 154.9,228.19 155.45,227.3 156,231.93 156.55,224.73 157.1,228.92 157.65,226.88 158.2,230.02 158.75,228.38 159.3,229.51 159.85,229.86 160.4,229.32 160.95,230.58 161.5,226.13 162.05,230.19 162.6,227.92 163.15,232.31 163.7,231.14 164.25,230.5 164.8,232.17 165.35,224.88 165.9,227.44 166.45,231.22 167,227.78 167.55,229.82 168.1,233.56 168.65,232.34 169.2,229.29 169.75,232.09 170.3,232.69 170.85,231.9 171.4,231.77 171.95,229.83 172.5,229.53 173.05,232.6 173.6,230.59" fill="none" stroke="#ff0000" stroke-width="1.0" stroke-linejoin="round" stroke-linecap="round" stroke-linejoin="miter" stroke-miterlimit="2"/>
<polyline points="41.6,243.78 42.15,240.74 42.7,239.64 43.25,238.49 43.8,241.79 44.35,244.61 44.9,242.22 45.45,242.87 46,243.58 46.55,239.95 47.1,245.26 47.65,239.44 48.2,241.41 48.75,244.41 49.3,239.97 49.85,240.38 50.4,239.49 50.95,241.26 51.5,237.08 52.05,240 52.6,243.9 53.15,240.79 53.7,239.52 54.25,240.18 54.8,239.81 55.35,239.41 55.9,240.26 56.45,236.31 57,240.44 57.55,238.04 58.1,240.41 58.65,238.7 59.2,236.69 59.75,238.11 60.3,236.19 60.85,239.62 61.4,237.54 61.95,238.92 62.5,232.63 63.05,239.84 63.6,235.95 64.15,238.53 64.7,237.18 65.25,233.51 65.8,236.49 66.35,235.4 66.9,237.6 67.45,239.91 68,239.05 68.55,240.1 69.1,236.43 69.65,239.27 70.2,239.94 70.75,241.74 71.3,239.28 71.85,242.03 72.4,242.39 72.95,239.48 73.5,240.88 74.05,243.95 74.6,241.42 75.15,241.58 75.7,245.26 76.25,244.07 76.8,243.07 77.35,243.63 77.9,242.65 78.45,242.35 79,242.44 79.55,243.91 80.1,245.55 80.65,242.27 81.2,242.94 81.75,242.76 82.3,241.09 82.85,244.12 83.4,245.53 83.95,242.7 84.5,245.75 85.05,243.24 85.6,246.37 86.15,246.51 86.7,243.72 87.25,240.98 87.8,244.14 88.35,242.44 88.9,240.59 89.45,244.73 90,247.6 90.55,244.89 91.1,244.58 91.65,241.55 92.2,243.99 92.75,242.84 93.3,246.55 93.85,244.93 94.4,246.07 94.95,246.02 95.5,245.61 96.05,247.56 96.6,246.62 97.15,245.15 97.7,246.33 98.25,247.38 98.8,252.67 99.35,244.78 99.9,249.85 100.45,246.25 101,246.99 101.55,244.83 102.1,249.08 102.65,245.82 103.2,245.89 103.75,249.33 104.3,246.93 104.85,246.6 105.4,249.8 105.95,247.9 106.5,250.04 107.05,247.81 107.6,249.99 108.15,250.91 108.7,246.08 109.25,252.78 109.8,249.11 110.35,249.46 110.9,249.79 111.45,251.26 112,248.73 112.55,248.27 113.1,249.28 113.65,250.78 114.2,247.49 114.75,245.65 115.3,247.42 115.85,248.54 116.4,246.25 116.95,247.25 117.5,246.66 118.05,246.69 118.6,246.74 119.15,247.58 119.7,249.7 120.25,247.65 120.8,244.37 121.35,247.22 121.9,242.93 122.45,244.71 123,247.65 123.55,247.08 124.1,242.14 124.65,246.47 125.2,244.64 125.75,244.13 126.3,246.02 126.85,246.01 127.4,248.42 127.95,243.45 128.5,245.4 129.05,246.08 129.6,243.22 130.15,248.83 130.7,250.07 131.25,245.97 131.8,247.84 132.35,246.68 132.9,247.66 133.45,245.98 134,251.64 134.55,245.07 135.1,249.61 135.65,247.91 136.2,253.61 136.75,244.62 137.3,247.89 137.85,246.23 138.4,248.76 138.95,250.27 139.5,248.2 140.05,247.48 140.6,247.14 141.15,250.86 141.7,252.96 142.25,252.92 142.8,250.97 143.35,251.87 143.9,250.45 144.45,248.48 145,248.69 145.55,253.34 146.1,250.83 146.65,251.79 147.2,250.64 147.75,253.12 148.3,252.93 148.85,248.56 149.4,248.9 149.95,247.98 150.5,251.32 151.05,247.75 151.6,247.91 152.15,252.14 152.7,247.99 153.25,245.52 153.8,243.82 154.35,247 154.9,247.61 155.45,245.98 156,247.82 156.55,249.44 157.1,247.31 157.65,249.06 158.2,250.35 158.75,247.98 159.3,245.76 159.85,247.31 160.4,247.23 160.95,250.01 161.5,245.28 162.05,243.2 162.6,246.65 163.15,246.81 163.7,245.55 164.25,247.39 164.8,247.03 165.35,248.71 165.9,245.1 166.45,245.39 167,246.67 167.55,245.85 168.1,249.11 168.65,248 169.2,247.11 169.75,250.1 170.3,248.48 170.85,249.62 171.4,249.46 171.95,247.92 172.5,248.1 173.05,254.15 173.6,251.93" fill="none" stroke="#1010ee" stroke-width="1.0" stroke-linejoin="round" stroke-linecap="round" stroke-linejoin="miter" stroke-miterlimit="2"/>
<rect x="41.6" y="161.7" width="141" height="112.4" fill="none" stroke="#484848" stroke-width="1.35" stroke-linejoin="round"/>
<line x1="41.6" y1="274.1" x2="41.6" y2="268.8" stroke="#484848" stroke-width="1.0" />
<line x1="41.6" y1="161.7" x2="41.6" y2="167" stroke="#484848" stroke-width="1.0" />
<line x1="63.29" y1="274.1" x2="63.29" y2="268.8" stroke="#484848" stroke-width="1.0" />
<line x1="63.29" y1="161.7" x2="63.29" y2="167" stroke="#484848" stroke-width="1.0" />
<line x1="84.98" y1="274.1" x2="84.98" y2="268.8" stroke="#484848" stroke-width="1.0" />
<line x1="84.98" y1="161.7" x2="84.98" y2="167" stroke="#484848" stroke-width="1.0" />
<line x1="106.68" y1="274.1" x2="106.68" y2="268.8" stroke="#484848" stroke-width="1.0" />
<line x1="106.68" y1="161.7" x2="106.68" y2="167" stroke="#484848" stroke-width="1.0" />
<line x1="128.37" y1="274.1" x2="128.37" y2="268.8" stroke="#484848" stroke-width="1.0" />
<line x1="128.37" y1="161.7" x2="128.37" y2="167" stroke="#484848" stroke-width="1.0" />
<line x1="150.06" y1="274.1" x2="150.06" y2="268.8" stroke="#484848" stroke-width="1.0" />
<line x1="150.06" y1="161.7" x2="150.06" y2="167" stroke="#484848" stroke-width="1.0" />
<line x1="171.75" y1="274.1" x2="171.75" y2="268.8" stroke="#484848" stroke-width="1.0" />
<line x1="171.75" y1="161.7" x2="171.75" y2="167" stroke="#484848" stroke-width="1.0" />
<line x1="52.45" y1="274.1" x2="52.45" y2="270.8" stroke="#484848" stroke-width="1.0" />
<line x1="52.45" y1="161.7" x2="52.45" y2="165" stroke="#484848" stroke-width="1.0" />
<line x1="74.14" y1="274.1" x2="74.14" y2="270.8" stroke="#484848" stroke-width="1.0" />
<line x1="74.14" y1="161.7" x2="74.14" y2="165" stroke="#484848" stroke-width="1.0" />
<line x1="95.83" y1="274.1" x2="95.83" y2="270.8" stroke="#484848" stroke-width="1.0" />
<line x1="95.83" y1="161.7" x2="95.83" y2="165" stroke="#484848" stroke-width="1.0" />
<line x1="117.52" y1="274.1" x2="117.52" y2="270.8" stroke="#484848" stroke-width="1.0" />
<line x1="117.52" y1="161.7" x2="117.52" y2="165" stroke="#484848" stroke-width="1.0" />
<line x1="139.22" y1="274.1" x2="139.22" y2="270.8" stroke="#484848" stroke-width="1.0" />
<line x1="139.22" y1="161.7" x2="139.22" y2="165" stroke="#484848" stroke-width="1.0" />
<line x1="160.91" y1="274.1" x2="160.91" y2="270.8" stroke="#484848" stroke-width="1.0" />
<line x1="160.91" y1="161.7" x2="160.91" y2="165" stroke="#484848" stroke-width="1.0" />
<line x1="41.6" y1="274.1" x2="46.9" y2="274.1" stroke="#484848" stroke-width="1.0" />
<line x1="182.6" y1="274.1" x2="177.3" y2="274.1" stroke="#484848" stroke-width="1.0" />
<line x1="41.6" y1="251.62" x2="46.9" y2="251.62" stroke="#484848" stroke-width="1.0" />
<line x1="182.6" y1="251.62" x2="177.3" y2="251.62" stroke="#484848" stroke-width="1.0" />
<line x1="41.6" y1="229.14" x2="46.9" y2="229.14" stroke="#484848" stroke-width="1.0" />
<line x1="182.6" y1="229.14" x2="177.3" y2="229.14" stroke="#484848" stroke-width="1.0" />
<line x1="41.6" y1="206.66" x2="46.9" y2="206.66" stroke="#484848" stroke-width="1.0" />
<line x1="182.6" y1="206.66" x2="177.3" y2="206.66" stroke="#484848" stroke-width="1.0" />
<line x1="41.6" y1="184.18" x2="46.9" y2="184.18" stroke="#484848" stroke-width="1.0" />
<line x1="182.6" y1="184.18" x2="177.3" y2="184.18" stroke="#484848" stroke-width="1.0" />
<line x1="41.6" y1="161.7" x2="46.9" y2="161.7" stroke="#484848" stroke-width="1.0" />
<line x1="182.6" y1="161.7" x2="177.3" y2="161.7" stroke="#484848" stroke-width="1.0" />
<line x1="41.6" y1="262.86" x2="44.9" y2="262.86" stroke="#484848" stroke-width="1.0" />
<line x1="182.6" y1="262.86" x2="179.3" y2="262.86" stroke="#484848" stroke-width="1.0" />
<line x1="41.6" y1="240.38" x2="44.9" y2="240.38" stroke="#484848" stroke-width="1.0" />
<line x1="182.6" y1="240.38" x2="179.3" y2="240.38" stroke="#484848" stroke-width="1.0" />
<line x1="41.6" y1="217.9" x2="44.9" y2="217.9" stroke="#484848" stroke-width="1.0" />
<line x1="182.6" y1="217.9" x2="179.3" y2="217.9" stroke="#484848" stroke-width="1.0" />
<line x1="41.6" y1="195.42" x2="44.9" y2="195.42" stroke="#484848" stroke-width="1.0" />
<line x1="182.6" y1="195.42" x2="179.3" y2="195.42" stroke="#484848" stroke-width="1.0" />
<line x1="41.6" y1="172.94" x2="44.9" y2="172.94" stroke="#484848" stroke-width="1.0" />
<line x1="182.6" y1="172.94" x2="179.3" y2="172.94" stroke="#484848" stroke-width="1.0" />
<text x="37.6" y="277.5" font-size="8.2" text-anchor="end" fill="#000" stroke="#000" stroke-width="0.1" font-family='"Liberation Serif", serif' >0</text>
<text x="37.6" y="255.02" font-size="8.2" text-anchor="end" fill="#000" stroke="#000" stroke-width="0.1" font-family='"Liberation Serif", serif' >100</text>
<text x="37.6" y="232.54" font-size="8.2" text-anchor="end" fill="#000" stroke="#000" stroke-width="0.1" font-family='"Liberation Serif", serif' >200</text>
<text x="37.6" y="210.06" font-size="8.2" text-anchor="end" fill="#000" stroke="#000" stroke-width="0.1" font-family='"Liberation Serif", serif' >300</text>
<text x="37.6" y="187.58" font-size="8.2" text-anchor="end" fill="#000" stroke="#000" stroke-width="0.1" font-family='"Liberation Serif", serif' >400</text>
<text x="37.6" y="165.1" font-size="8.2" text-anchor="end" fill="#000" stroke="#000" stroke-width="0.1" font-family='"Liberation Serif", serif' >500</text>
<text x="41.6" y="286.3" font-size="8.2" text-anchor="middle" fill="#000" stroke="#000" stroke-width="0.1" font-family='"Liberation Serif", serif' >0</text>
<text x="63.29" y="286.3" font-size="8.2" text-anchor="middle" fill="#000" stroke="#000" stroke-width="0.1" font-family='"Liberation Serif", serif' >1</text>
<text x="84.98" y="286.3" font-size="8.2" text-anchor="middle" fill="#000" stroke="#000" stroke-width="0.1" font-family='"Liberation Serif", serif' >2</text>
<text x="106.68" y="286.3" font-size="8.2" text-anchor="middle" fill="#000" stroke="#000" stroke-width="0.1" font-family='"Liberation Serif", serif' >3</text>
<text x="128.37" y="286.3" font-size="8.2" text-anchor="middle" fill="#000" stroke="#000" stroke-width="0.1" font-family='"Liberation Serif", serif' >4</text>
<text x="150.06" y="286.3" font-size="8.2" text-anchor="middle" fill="#000" stroke="#000" stroke-width="0.1" font-family='"Liberation Serif", serif' >5</text>
<text x="171.75" y="286.3" font-size="8.2" text-anchor="middle" fill="#000" stroke="#000" stroke-width="0.1" font-family='"Liberation Serif", serif' >6</text>
<text x="-0.6" y="164.2" font-size="15" text-anchor="start" fill="#000" stroke="#000" stroke-width="0.15" font-family='"Liberation Serif", serif' >(d)</text>
<text x="70.4" y="175.7" font-size="7.2" text-anchor="start" fill="#1a1aff" stroke="#1a1aff" stroke-width="0.15" font-family='"Liberation Serif", serif' font-style="italic">71.5</text>
<text x="70.2" y="194.9" font-size="7.2" text-anchor="start" fill="#1a1aff" stroke="#1a1aff" stroke-width="0.15" font-family='"Liberation Serif", serif' font-style="italic">68.1</text>
<text x="70" y="234.4" font-size="7.2" text-anchor="start" fill="#1a1aff" stroke="#1a1aff" stroke-width="0.15" font-family='"Liberation Serif", serif' font-style="italic">68.0</text>
<text x="70.2" y="255.6" font-size="7.2" text-anchor="start" fill="#1a1aff" stroke="#1a1aff" stroke-width="0.15" font-family='"Liberation Serif", serif' font-style="italic">68.1</text>
<text x="173.7" y="186.6" font-size="8.6" text-anchor="middle" fill="#222" stroke="#222" stroke-width="0.1" font-family='"Liberation Serif", serif' >1</text>
<text x="173.7" y="207.5" font-size="8.6" text-anchor="middle" fill="#222" stroke="#222" stroke-width="0.1" font-family='"Liberation Serif", serif' >4</text>
<text x="173.7" y="243" font-size="8.6" text-anchor="middle" fill="#222" stroke="#222" stroke-width="0.1" font-family='"Liberation Serif", serif' >3</text>
<text x="173.7" y="266" font-size="8.6" text-anchor="middle" fill="#222" stroke="#222" stroke-width="0.1" font-family='"Liberation Serif", serif' >2</text>
<text transform="translate(16.3 219.8) rotate(-90)" font-size="14.5" text-anchor="middle" font-family='"Liberation Serif", serif' fill="#000" stroke="#000" stroke-width="0.25">θ<tspan font-size="8.5" dy="4">i</tspan><tspan dy="-4" dx="-0.3">(deg)</tspan></text>
<text x="84.0" y="298.9" font-size="9.6" font-family='"Liberation Serif", serif' fill="#000" stroke="#000" stroke-width="0.18">2.5 1<tspan dx="0.5">0</tspan><tspan font-size="6.6" dy="-4.9" dx="0.3">7</tspan><tspan dy="4.9" dx="1.5">MCS</tspan></text>
<line x1="238.5" y1="251.84" x2="378.2" y2="251.84" stroke="#ff0000" stroke-width="1.1" stroke-dasharray="2.6 1.6" stroke-dashoffset="0" opacity="0.8"/>
<line x1="238.5" y1="229.58" x2="378.2" y2="229.58" stroke="#00ee00" stroke-width="1.1" stroke-dasharray="2.6 1.6" stroke-dashoffset="0" opacity="0.8"/>
<line x1="238.5" y1="207.32" x2="378.2" y2="207.32" stroke="#1010ee" stroke-width="1.1" stroke-dasharray="2.6 1.6" stroke-dashoffset="0" opacity="0.8"/>
<line x1="238.5" y1="185.06" x2="378.2" y2="185.06" stroke="#00f0f0" stroke-width="1.1" stroke-dasharray="2.6 1.6" stroke-dashoffset="0" opacity="0.8"/>
<polyline points="238.5,253.12 239.2,252.63 239.9,248.82 240.6,252.19 241.3,252.27 242,254.27 242.7,251.98 243.4,253.64 244.1,252.61 244.8,253.2 245.5,252.34 246.2,252.55 246.9,252.57 247.6,252.25 248.3,252.62 249,252.35 249.7,252.98 250.4,253.37 251.1,252.18 251.8,252.37 252.5,253.07 253.2,251.78 253.9,256.24 254.6,252.99 255.3,252.3 256,251.27 256.7,251.81 257.4,251.9 258.1,250.65 258.8,250.19 259.5,247.91 260.2,250.96 260.9,250.3 261.6,250.87 262.3,250.56 263,251.32 263.7,252.77 264.4,251.63 265.1,253.04 265.8,251.07 266.5,250.77 267.2,251.4 267.9,251.67 268.6,251.88 269.3,251.88 270,251.35 270.7,252.17 271.4,251.28 272.1,251.71 272.8,251.35 273.5,251.04 274.2,250.85 274.9,250.49 275.6,251.98 276.3,252.54 277,252.29 277.7,254.83 278.4,253.82 279.1,252.39 279.8,251.84 280.5,252.04 281.2,250.7 281.9,252.31 282.6,248.78 283.3,252.17 284,250.92 284.7,252.2 285.4,252.91 286.1,252.62 286.8,250.86 287.5,252.14 288.2,251.75 288.9,252.85 289.6,252.21 290.3,253.25 291,251.85 291.7,250.76 292.4,250.76 293.1,252.19 293.8,250.41 294.5,251.26 295.2,253.18 295.9,252 296.6,251.77 297.3,253.52 298,253.58 298.7,252.44 299.4,253.61 300.1,252.87 300.8,252.96 301.5,251.65 302.2,250.18 302.9,251.43 303.6,252.78 304.3,251.04 305,252.13 305.7,252.19 306.4,253.74 307.1,250.51 307.8,251.39 308.5,251.3 309.2,251.38 309.9,251.73 310.6,253.48 311.3,252.04 312,253.16 312.7,252.26 313.4,252.86 314.1,252.51 314.8,252.24 315.5,252.69 316.2,254.08 316.9,251.37 317.6,252.92 318.3,253.32 319,251.76 319.7,252.9 320.4,252.45 321.1,253.06 321.8,252.42 322.5,251.68 323.2,251.49 323.9,249.25 324.6,251.97 325.3,250.23 326,248.59 326.7,248.98 327.4,249.88 328.1,249.94 328.8,249.26 329.5,250.52 330.2,251.75 330.9,250.97 331.6,251.2 332.3,250.17 333,252.16 333.7,251 334.4,250.41 335.1,251.12 335.8,251.26 336.5,250.52 337.2,252.71 337.9,251.07 338.6,253.38 339.3,252.75 340,252.29 340.7,251.73 341.4,250.99 342.1,252.75 342.8,253.12 343.5,251.2 344.2,253.2 344.9,252.81 345.6,252.74 346.3,252.55 347,251.92 347.7,252.03 348.4,252.23 349.1,253.02 349.8,249.19 350.5,249.91 351.2,251.03 351.9,251.81 352.6,251.46 353.3,251.02 354,251.95 354.7,252.1 355.4,250.81 356.1,251.36 356.8,252.42 357.5,251.84 358.2,252.58 358.9,250.57 359.6,251.79 360.3,251.71 361,252.04 361.7,253.36 362.4,251.39 363.1,251.35 363.8,252.43 364.5,251.16 365.2,252.37 365.9,251.6 366.6,249.64 367.3,251.07 368,252.08 368.7,251.02 369.4,251.03 370.1,250.9" fill="none" stroke="#ff0000" stroke-width="1.25" stroke-linejoin="round" stroke-linecap="round" stroke-linejoin="miter" stroke-miterlimit="2"/>
<polyline points="238.5,228.52 239.2,229.04 239.9,229.32 240.6,228.17 241.3,229.5 242,226.55 242.7,229.61 243.4,229.42 244.1,230.27 244.8,228.88 245.5,231.11 246.2,230.86 246.9,229.42 247.6,230.1 248.3,229.67 249,227.76 249.7,229.25 250.4,228.1 251.1,228.45 251.8,228.33 252.5,228.59 253.2,229.11 253.9,229.26 254.6,228.16 255.3,229.24 256,228.56 256.7,228.73 257.4,229.55 258.1,230.57 258.8,230.54 259.5,229.78 260.2,229.86 260.9,229.93 261.6,230.82 262.3,231.58 263,230.7 263.7,230.94 264.4,230.39 265.1,231.01 265.8,228.11 266.5,227.78 267.2,229.28 267.9,229.94 268.6,229.2 269.3,229.87 270,226.69 270.7,228.63 271.4,228.92 272.1,229.98 272.8,229.75 273.5,228.58 274.2,229.14 274.9,228.74 275.6,229.59 276.3,229.09 277,230.24 277.7,230.08 278.4,230.93 279.1,230.21 279.8,229.82 280.5,230.26 281.2,229.66 281.9,229.67 282.6,229.17 283.3,229.95 284,226.17 284.7,232.15 285.4,230.52 286.1,229.33 286.8,230.86 287.5,231.1 288.2,229.94 288.9,228.61 289.6,228.44 290.3,229.55 291,233.26 291.7,229.86 292.4,229.87 293.1,228.98 293.8,228.48 294.5,229.24 295.2,228.25 295.9,229.04 296.6,229.68 297.3,229.44 298,229.92 298.7,229.15 299.4,229.78 300.1,229.49 300.8,227.79 301.5,228.09 302.2,228.18 302.9,229.48 303.6,229.55 304.3,229.87 305,230.13 305.7,230.81 306.4,231.3 307.1,229.97 307.8,229 308.5,230.49 309.2,229.63 309.9,229.62 310.6,229.34 311.3,228.64 312,228.34 312.7,230.19 313.4,230.29 314.1,230.16 314.8,229.74 315.5,229.95 316.2,229.6 316.9,230.13 317.6,229.94 318.3,229.97 319,230.24 319.7,231.07 320.4,228.09 321.1,232.15 321.8,229.42 322.5,227.94 323.2,229.4 323.9,231.4 324.6,229.46 325.3,229.76 326,227.18 326.7,231.85 327.4,232.24 328.1,231.79 328.8,230.4 329.5,230.84 330.2,230.93 330.9,229.76 331.6,229.9 332.3,230.21 333,229.21 333.7,227.93 334.4,228.14 335.1,229.46 335.8,229.2 336.5,230.95 337.2,230.83 337.9,230.05 338.6,229.47 339.3,229.86 340,231.43 340.7,228.87 341.4,229.12 342.1,230.6 342.8,229.5 343.5,229.49 344.2,230.92 344.9,230.16 345.6,229.7 346.3,231.55 347,230.21 347.7,230.22 348.4,229.9 349.1,229.54 349.8,229.76 350.5,229.28 351.2,229.82 351.9,230.11 352.6,230.02 353.3,229.98 354,230.1 354.7,229.67 355.4,228.83 356.1,230.2 356.8,228.42 357.5,229.31 358.2,230.23 358.9,228.64 359.6,230.91 360.3,228.94 361,228.47 361.7,228.92 362.4,228.87 363.1,229.48 363.8,229.43 364.5,230.37 365.2,229.52 365.9,229.82 366.6,229.03 367.3,230.24 368,229.39 368.7,228.61 369.4,231.14 370.1,229.47" fill="none" stroke="#00ee00" stroke-width="1.25" stroke-linejoin="round" stroke-linecap="round" stroke-linejoin="miter" stroke-miterlimit="2"/>
<polyline points="238.5,207.89 239.2,207.65 239.9,206.95 240.6,209.17 241.3,206.23 242,205.22 242.7,207.82 243.4,207.09 244.1,205.36 244.8,206.29 245.5,206.79 246.2,207.68 246.9,208.48 247.6,207.71 248.3,207.15 249,207.82 249.7,207.3 250.4,207.59 251.1,207.05 251.8,206.75 252.5,208.72 253.2,207.63 253.9,208.06 254.6,207.61 255.3,207.68 256,207.86 256.7,208.65 257.4,209.11 258.1,208.63 258.8,207.7 259.5,209.52 260.2,208.25 260.9,208.08 261.6,206.71 262.3,206.69 263,207.37 263.7,203.08 264.4,206.52 265.1,207.49 265.8,208.94 266.5,207.69 267.2,204.15 267.9,206.54 268.6,208.23 269.3,206.93 270,207.32 270.7,209.07 271.4,207.62 272.1,207.29 272.8,206.96 273.5,208.52 274.2,210.93 274.9,206.95 275.6,206.33 276.3,207.23 277,208.29 277.7,205.3 278.4,206.22 279.1,207.59 279.8,208.13 280.5,207.74 281.2,208.09 281.9,209.85 282.6,207.89 283.3,207.64 284,206.98 284.7,206.98 285.4,206.45 286.1,207.95 286.8,207.81 287.5,207.29 288.2,204.92 288.9,206.88 289.6,206.06 290.3,206.57 291,206.36 291.7,206.64 292.4,205.43 293.1,206.79 293.8,207.7 294.5,207.25 295.2,206.81 295.9,206.16 296.6,206.81 297.3,208.31 298,206.72 298.7,207.94 299.4,206.79 300.1,207.94 300.8,206.74 301.5,207.42 302.2,207.62 302.9,207.71 303.6,206.69 304.3,207.28 305,207.02 305.7,207.72 306.4,207.69 307.1,207.72 307.8,208.35 308.5,207.08 309.2,207.24 309.9,207.38 310.6,207.61 311.3,207.14 312,208.08 312.7,206.84 313.4,208.94 314.1,207.61 314.8,208.46 315.5,206.78 316.2,207.38 316.9,207.73 317.6,208.98 318.3,207.76 319,208.85 319.7,207.26 320.4,208.98 321.1,207.4 321.8,206.63 322.5,206.45 323.2,207.9 323.9,207.4 324.6,207.56 325.3,207.14 326,207.38 326.7,208.23 327.4,206.95 328.1,207.4 328.8,206.98 329.5,206.07 330.2,207.24 330.9,208.72 331.6,207.13 332.3,209.5 333,208.45 333.7,208.52 334.4,208.93 335.1,208.01 335.8,207.8 336.5,208.55 337.2,206.78 337.9,206.98 338.6,206.11 339.3,207.1 340,208.63 340.7,207.95 341.4,206.37 342.1,205.76 342.8,207.49 343.5,207.58 344.2,206.57 344.9,210.58 345.6,207.31 346.3,207.56 347,207.8 347.7,208.26 348.4,207.31 349.1,207.32 349.8,211.71 350.5,207.96 351.2,206.96 351.9,207.97 352.6,207.15 353.3,207.56 354,208.7 354.7,208.58 355.4,207.1 356.1,206.71 356.8,207.81 357.5,207.29 358.2,208.34 358.9,208.2 359.6,208.29 360.3,207.62 361,206.4 361.7,207.15 362.4,207.22 363.1,207.42 363.8,208.22 364.5,206.62 365.2,207.35 365.9,207.09 366.6,206.94 367.3,208.06 368,207.13 368.7,209.05 369.4,204.28 370.1,208.75" fill="none" stroke="#1010ee" stroke-width="1.25" stroke-linejoin="round" stroke-linecap="round" stroke-linejoin="miter" stroke-miterlimit="2"/>
<polyline points="238.5,184.34 239.2,182.13 239.9,184.96 240.6,182.86 241.3,183.81 242,185.98 242.7,185.27 243.4,185.64 244.1,186.38 244.8,185.03 245.5,183.86 246.2,183.98 246.9,185.32 247.6,183.68 248.3,185.18 249,185.48 249.7,184.55 250.4,185.75 251.1,185.89 251.8,184.71 252.5,184.75 253.2,185.33 253.9,183.76 254.6,182.46 255.3,185.62 256,185.22 256.7,184.35 257.4,185.68 258.1,187.38 258.8,184.93 259.5,186.69 260.2,186.67 260.9,185.98 261.6,186.59 262.3,185.65 263,187.31 263.7,187.44 264.4,185.48 265.1,185.98 265.8,186.23 266.5,185.65 267.2,186.34 267.9,185.25 268.6,186.41 269.3,185.71 270,185.85 270.7,186.13 271.4,186.3 272.1,184.69 272.8,185.84 273.5,185.73 274.2,184.81 274.9,186 275.6,184.27 276.3,184.43 277,185.13 277.7,184.33 278.4,185.88 279.1,184.93 279.8,186.02 280.5,183.89 281.2,183.92 281.9,185.58 282.6,183.8 283.3,185.52 284,184.24 284.7,185.18 285.4,185.98 286.1,185.19 286.8,184.53 287.5,185.19 288.2,186.58 288.9,186.03 289.6,186.59 290.3,186.29 291,186.13 291.7,185.43 292.4,184.47 293.1,185.3 293.8,184.69 294.5,182.91 295.2,184.84 295.9,185.99 296.6,187.14 297.3,185.11 298,186.64 298.7,185.42 299.4,186.76 300.1,185.3 300.8,185.84 301.5,184.77 302.2,184.68 302.9,184.2 303.6,184.76 304.3,184.16 305,184.6 305.7,184.24 306.4,184.96 307.1,185.72 307.8,181.94 308.5,184.27 309.2,184.84 309.9,184.79 310.6,184.09 311.3,185.45 312,185.15 312.7,183.66 313.4,185.6 314.1,186.49 314.8,186.25 315.5,185.13 316.2,185.08 316.9,184.75 317.6,184.63 318.3,185.42 319,184.33 319.7,184.32 320.4,183.95 321.1,185.52 321.8,184.12 322.5,184.35 323.2,186.11 323.9,185.31 324.6,184.89 325.3,185.32 326,184.63 326.7,184.81 327.4,185.83 328.1,185.9 328.8,180.97 329.5,184.75 330.2,182.86 330.9,186.19 331.6,184.03 332.3,184.53 333,184.5 333.7,186.16 334.4,186.49 335.1,185.4 335.8,186.64 336.5,186.97 337.2,184.94 337.9,185.6 338.6,184.96 339.3,184.57 340,184.63 340.7,184.74 341.4,183.89 342.1,184.73 342.8,185.43 343.5,184.18 344.2,184.54 344.9,186.22 345.6,185.32 346.3,184.98 347,185.61 347.7,184.54 348.4,183.54 349.1,184.92 349.8,184.14 350.5,185.14 351.2,184.82 351.9,182.64 352.6,182.8 353.3,184.3 354,183.71 354.7,182.76 355.4,184.18 356.1,185.72 356.8,185.41 357.5,184.44 358.2,185.46 358.9,185.84 359.6,184.78 360.3,186.08 361,184.06 361.7,186 362.4,185.49 363.1,184.76 363.8,184.57 364.5,184.46 365.2,183.77 365.9,185.24 366.6,185.66 367.3,185.56 368,185.46 368.7,185.6 369.4,185.1 370.1,185.58" fill="none" stroke="#00f0f0" stroke-width="1.25" stroke-linejoin="round" stroke-linecap="round" stroke-linejoin="miter" stroke-miterlimit="2"/>
<rect x="238.5" y="162.8" width="139.7" height="111.3" fill="none" stroke="#484848" stroke-width="1.35" stroke-linejoin="round"/>
<line x1="238.5" y1="274.1" x2="238.5" y2="268.8" stroke="#484848" stroke-width="1.0" />
<line x1="238.5" y1="162.8" x2="238.5" y2="168.1" stroke="#484848" stroke-width="1.0" />
<line x1="259.99" y1="274.1" x2="259.99" y2="268.8" stroke="#484848" stroke-width="1.0" />
<line x1="259.99" y1="162.8" x2="259.99" y2="168.1" stroke="#484848" stroke-width="1.0" />
<line x1="281.48" y1="274.1" x2="281.48" y2="268.8" stroke="#484848" stroke-width="1.0" />
<line x1="281.48" y1="162.8" x2="281.48" y2="168.1" stroke="#484848" stroke-width="1.0" />
<line x1="302.98" y1="274.1" x2="302.98" y2="268.8" stroke="#484848" stroke-width="1.0" />
<line x1="302.98" y1="162.8" x2="302.98" y2="168.1" stroke="#484848" stroke-width="1.0" />
<line x1="324.47" y1="274.1" x2="324.47" y2="268.8" stroke="#484848" stroke-width="1.0" />
<line x1="324.47" y1="162.8" x2="324.47" y2="168.1" stroke="#484848" stroke-width="1.0" />
<line x1="345.96" y1="274.1" x2="345.96" y2="268.8" stroke="#484848" stroke-width="1.0" />
<line x1="345.96" y1="162.8" x2="345.96" y2="168.1" stroke="#484848" stroke-width="1.0" />
<line x1="367.45" y1="274.1" x2="367.45" y2="268.8" stroke="#484848" stroke-width="1.0" />
<line x1="367.45" y1="162.8" x2="367.45" y2="168.1" stroke="#484848" stroke-width="1.0" />
<line x1="249.25" y1="274.1" x2="249.25" y2="270.8" stroke="#484848" stroke-width="1.0" />
<line x1="249.25" y1="162.8" x2="249.25" y2="166.1" stroke="#484848" stroke-width="1.0" />
<line x1="270.74" y1="274.1" x2="270.74" y2="270.8" stroke="#484848" stroke-width="1.0" />
<line x1="270.74" y1="162.8" x2="270.74" y2="166.1" stroke="#484848" stroke-width="1.0" />
<line x1="292.23" y1="274.1" x2="292.23" y2="270.8" stroke="#484848" stroke-width="1.0" />
<line x1="292.23" y1="162.8" x2="292.23" y2="166.1" stroke="#484848" stroke-width="1.0" />
<line x1="313.72" y1="274.1" x2="313.72" y2="270.8" stroke="#484848" stroke-width="1.0" />
<line x1="313.72" y1="162.8" x2="313.72" y2="166.1" stroke="#484848" stroke-width="1.0" />
<line x1="335.22" y1="274.1" x2="335.22" y2="270.8" stroke="#484848" stroke-width="1.0" />
<line x1="335.22" y1="162.8" x2="335.22" y2="166.1" stroke="#484848" stroke-width="1.0" />
<line x1="356.71" y1="274.1" x2="356.71" y2="270.8" stroke="#484848" stroke-width="1.0" />
<line x1="356.71" y1="162.8" x2="356.71" y2="166.1" stroke="#484848" stroke-width="1.0" />
<line x1="238.5" y1="251.84" x2="243.8" y2="251.84" stroke="#484848" stroke-width="1.0" />
<line x1="378.2" y1="251.84" x2="372.9" y2="251.84" stroke="#484848" stroke-width="1.0" />
<line x1="238.5" y1="229.58" x2="243.8" y2="229.58" stroke="#484848" stroke-width="1.0" />
<line x1="378.2" y1="229.58" x2="372.9" y2="229.58" stroke="#484848" stroke-width="1.0" />
<line x1="238.5" y1="207.32" x2="243.8" y2="207.32" stroke="#484848" stroke-width="1.0" />
<line x1="378.2" y1="207.32" x2="372.9" y2="207.32" stroke="#484848" stroke-width="1.0" />
<line x1="238.5" y1="185.06" x2="243.8" y2="185.06" stroke="#484848" stroke-width="1.0" />
<line x1="378.2" y1="185.06" x2="372.9" y2="185.06" stroke="#484848" stroke-width="1.0" />
<line x1="238.5" y1="262.97" x2="241.8" y2="262.97" stroke="#484848" stroke-width="1.0" />
<line x1="378.2" y1="262.97" x2="374.9" y2="262.97" stroke="#484848" stroke-width="1.0" />
<line x1="238.5" y1="240.71" x2="241.8" y2="240.71" stroke="#484848" stroke-width="1.0" />
<line x1="378.2" y1="240.71" x2="374.9" y2="240.71" stroke="#484848" stroke-width="1.0" />
<line x1="238.5" y1="218.45" x2="241.8" y2="218.45" stroke="#484848" stroke-width="1.0" />
<line x1="378.2" y1="218.45" x2="374.9" y2="218.45" stroke="#484848" stroke-width="1.0" />
<line x1="238.5" y1="196.19" x2="241.8" y2="196.19" stroke="#484848" stroke-width="1.0" />
<line x1="378.2" y1="196.19" x2="374.9" y2="196.19" stroke="#484848" stroke-width="1.0" />
<line x1="238.5" y1="173.93" x2="241.8" y2="173.93" stroke="#484848" stroke-width="1.0" />
<line x1="378.2" y1="173.93" x2="374.9" y2="173.93" stroke="#484848" stroke-width="1.0" />
<text x="238.5" y="286.3" font-size="8.2" text-anchor="middle" fill="#000" stroke="#000" stroke-width="0.1" font-family='"Liberation Serif", serif' >0</text>
<text x="259.99" y="286.3" font-size="8.2" text-anchor="middle" fill="#000" stroke="#000" stroke-width="0.1" font-family='"Liberation Serif", serif' >1</text>
<text x="281.48" y="286.3" font-size="8.2" text-anchor="middle" fill="#000" stroke="#000" stroke-width="0.1" font-family='"Liberation Serif", serif' >2</text>
<text x="302.98" y="286.3" font-size="8.2" text-anchor="middle" fill="#000" stroke="#000" stroke-width="0.1" font-family='"Liberation Serif", serif' >3</text>
<text x="324.47" y="286.3" font-size="8.2" text-anchor="middle" fill="#000" stroke="#000" stroke-width="0.1" font-family='"Liberation Serif", serif' >4</text>
<text x="345.96" y="286.3" font-size="8.2" text-anchor="middle" fill="#000" stroke="#000" stroke-width="0.1" font-family='"Liberation Serif", serif' >5</text>
<text x="367.45" y="286.3" font-size="8.2" text-anchor="middle" fill="#000" stroke="#000" stroke-width="0.1" font-family='"Liberation Serif", serif' >6</text>
<text x="196.6" y="165.6" font-size="15" text-anchor="start" fill="#000" stroke="#000" stroke-width="0.15" font-family='"Liberation Serif", serif' >(e)</text>
<text x="235.2" y="199.59" font-size="8.2" text-anchor="end" fill="#000" stroke="#000" stroke-width="0.1" font-family='"Liberation Serif", serif' >+50</text>
<text x="235.2" y="210.72" font-size="8.2" text-anchor="end" fill="#000" stroke="#000" stroke-width="0.1" font-family='"Liberation Serif", serif' >0</text>
<text x="235.2" y="221.85" font-size="8.2" text-anchor="end" fill="#000" stroke="#000" stroke-width="0.1" font-family='"Liberation Serif", serif' >-50</text>
<text x="235.2" y="244.11" font-size="8.2" text-anchor="end" fill="#000" stroke="#000" stroke-width="0.1" font-family='"Liberation Serif", serif' >+50</text>
<text x="235.2" y="255.24" font-size="8.2" text-anchor="end" fill="#000" stroke="#000" stroke-width="0.1" font-family='"Liberation Serif", serif' >0</text>
<text x="235.2" y="266.37" font-size="8.2" text-anchor="end" fill="#000" stroke="#000" stroke-width="0.1" font-family='"Liberation Serif", serif' >-50</text>
<text x="381.3" y="177.33" font-size="8.2" text-anchor="start" fill="#000" stroke="#000" stroke-width="0.1" font-family='"Liberation Serif", serif' >+50</text>
<text x="387.2" y="188.46" font-size="8.2" text-anchor="middle" fill="#000" stroke="#000" stroke-width="0.1" font-family='"Liberation Serif", serif' >0</text>
<text x="381.3" y="199.59" font-size="8.2" text-anchor="start" fill="#000" stroke="#000" stroke-width="0.1" font-family='"Liberation Serif", serif' >-50</text>
<text x="381.3" y="221.85" font-size="8.2" text-anchor="start" fill="#000" stroke="#000" stroke-width="0.1" font-family='"Liberation Serif", serif' >+50</text>
<text x="387.2" y="232.98" font-size="8.2" text-anchor="middle" fill="#000" stroke="#000" stroke-width="0.1" font-family='"Liberation Serif", serif' >0</text>
<text x="381.3" y="244.11" font-size="8.2" text-anchor="start" fill="#000" stroke="#000" stroke-width="0.1" font-family='"Liberation Serif", serif' >-50</text>
<text x="244.1" y="179.8" font-size="7.4" text-anchor="start" fill="#1a1aff" stroke="#1a1aff" stroke-width="0.12" font-family='"Liberation Serif", serif' >6.0</text>
<text x="244.1" y="201.2" font-size="7.4" text-anchor="start" fill="#1a1aff" stroke="#1a1aff" stroke-width="0.12" font-family='"Liberation Serif", serif' >5.8</text>
<text x="244.7" y="240.7" font-size="7.4" text-anchor="start" fill="#1a1aff" stroke="#1a1aff" stroke-width="0.12" font-family='"Liberation Serif", serif' >5.7</text>
<text x="244.7" y="262.8" font-size="7.4" text-anchor="start" fill="#1a1aff" stroke="#1a1aff" stroke-width="0.12" font-family='"Liberation Serif", serif' >6.4</text>
<text x="369.5" y="196.5" font-size="8.6" text-anchor="middle" fill="#222" stroke="#222" stroke-width="0.1" font-family='"Liberation Serif", serif' >4</text>
<text x="369.5" y="218.6" font-size="8.6" text-anchor="middle" fill="#222" stroke="#222" stroke-width="0.1" font-family='"Liberation Serif", serif' >3</text>
<text x="370.1" y="242.1" font-size="8.6" text-anchor="middle" fill="#222" stroke="#222" stroke-width="0.1" font-family='"Liberation Serif", serif' >2</text>
<text x="370.1" y="264.6" font-size="8.6" text-anchor="middle" fill="#222" stroke="#222" stroke-width="0.1" font-family='"Liberation Serif", serif' >1</text>
<line x1="360" y1="179.4" x2="373.04" y2="179.4" stroke="#00f0f0" stroke-width="0.95" />
<polygon points="375.2,179.4 371.6,177.7 371.6,181.1" fill="#00f0f0"/>
<line x1="256.2" y1="213.2" x2="244.16" y2="213.2" stroke="#1010ee" stroke-width="0.95" />
<polygon points="242,213.2 245.6,211.5 245.6,214.9" fill="#1010ee"/>
<line x1="360.1" y1="224" x2="373.04" y2="224" stroke="#00ee00" stroke-width="0.95" />
<polygon points="375.2,224 371.6,222.3 371.6,225.7" fill="#00ee00"/>
<line x1="256.8" y1="246.1" x2="244.16" y2="246.1" stroke="#ff0000" stroke-width="0.95" />
<polygon points="242,246.1 245.6,244.4 245.6,247.8" fill="#ff0000"/>
<text transform="translate(214.2 220.3) rotate(-90)" font-size="14.5" text-anchor="middle" font-family='"Liberation Serif", serif' fill="#000" stroke="#000" stroke-width="0.25">θ<tspan font-size="8.5" dy="4">i</tspan><tspan dy="-4" dx="-0.3">(deg)</tspan></text>
<text x="281.0" y="298.9" font-size="9.6" font-family='"Liberation Serif", serif' fill="#000" stroke="#000" stroke-width="0.18">2.5 1<tspan dx="0.5">0</tspan><tspan font-size="6.6" dy="-4.9" dx="0.3">7</tspan><tspan dy="4.9" dx="1.5">MCS</tspan></text>
<line x1="448.7" y1="249.37" x2="588.3" y2="249.37" stroke="#ff0000" stroke-width="1.25" stroke-dasharray="4.5 3.8" stroke-dashoffset="-4.3" opacity="0.75"/>
<line x1="448.7" y1="224.63" x2="588.3" y2="224.63" stroke="#00ee00" stroke-width="1.25" stroke-dasharray="4.5 3.8" stroke-dashoffset="-4.3" opacity="0.75"/>
<line x1="448.7" y1="199.9" x2="588.3" y2="199.9" stroke="#1010ee" stroke-width="1.25" stroke-dasharray="4.5 3.8" stroke-dashoffset="-4.3" opacity="0.75"/>
<line x1="448.7" y1="175.17" x2="588.3" y2="175.17" stroke="#00f0f0" stroke-width="1.25" stroke-dasharray="4.5 3.8" stroke-dashoffset="-4.3" opacity="0.75"/>
<polyline points="448.7,257.27 449.1,264.49 449.5,265.31 449.9,259.8 450.3,257.15 450.7,258.04 451.1,259.35 451.5,256.48 451.9,265.52 452.3,260.08 452.7,262.14 453.1,260.76 453.5,262.35 453.9,259.49 454.3,257.56 454.7,263.29 455.1,258.26 455.5,257.4 455.9,262.94 456.3,257.37 456.7,257.11 457.1,264.66 457.5,261.93 457.9,259.24 458.3,258.9 458.7,256.47 459.1,263.48 459.5,261.03 459.9,262.89 460.3,263.64 460.7,258.62 461.1,263.6 461.5,261.14 461.9,261.46 462.3,255.48 462.7,261.72 463.1,258.96 463.5,258.18 463.9,259.84 464.3,258.33 464.7,258.76 465.1,257.44 465.5,257.75 465.9,259.6 466.3,264.49 466.7,255.14 467.1,253.31 467.5,259.06 467.9,261.95 468.3,258.43 468.7,253.46 469.1,257.13 469.5,257.17 469.9,254.41 470.3,261.61 470.7,260.61 471.1,256.25 471.5,261.74 471.9,258.22 472.3,263.78 472.7,261.61 473.1,264.86 473.5,259.52 473.9,262.13 474.3,257.64 474.7,259.58 475.1,261.29 475.5,260.08 475.9,259.51 476.3,260.51 476.7,259.42 477.1,257.58 477.5,260.6 477.9,259.87 478.3,260.73 478.7,259.65 479.1,261.73 479.5,260.34 479.9,255.31 480.3,262.56 480.7,261.75 481.1,258.63 481.5,263.25 481.9,261.69 482.3,264.24 482.7,262.25 483.1,261.86 483.5,263.6 483.9,259.38 484.3,256.13 484.7,259.77 485.1,262.97 485.5,260.71 485.9,260.02 486.3,256.58 486.7,256.72 487.1,259.12 487.5,257.44 487.9,259.27 488.3,261.04 488.7,262.74 489.1,262.06 489.5,263.43 489.9,257.31 490.3,255.18 490.7,258.22 491.1,255.62 491.5,260.77 491.9,261.43 492.3,265.11 492.7,257 493.1,257.95 493.5,255.99 493.9,257.33 494.3,261.55 494.7,259.16 495.1,260.55 495.5,256.5 495.9,258.57 496.3,259.32 496.7,259.68 497.1,260.51 497.5,262.21 497.9,257.88 498.3,261.58 498.7,259.27 499.1,262.44 499.5,262 499.9,261.36 500.3,258.62 500.7,256.32 501.1,261.67 501.5,261.67 501.9,259.43 502.3,258.23 502.7,259.89 503.1,259.86 503.5,255.17 503.9,258.18 504.3,261.21 504.7,263.5 505.1,262.71 505.5,259.93 505.9,260.56 506.3,259.58 506.7,259.69 507.1,260.82 507.5,259.87 507.9,260.4 508.3,261.32 508.7,257.45 509.1,257.99 509.5,262.32 509.9,255.23 510.3,258.85 510.7,260.56 511.1,258.65 511.5,257.57 511.9,253.75 512.3,258.41 512.7,257.68 513.1,257.67 513.5,257.1 513.9,256.89 514.3,264.03 514.7,261.19 515.1,260.48 515.5,262.25 515.9,258.25 516.3,258.31 516.7,257.83 517.1,261.54 517.5,261.22 517.9,265.88 518.3,258.28 518.7,253.78 519.1,263.27 519.5,257.64 519.9,259.13 520.3,254.69 520.7,263.15 521.1,262.62 521.5,261.47 521.9,265.44 522.3,261.27 522.7,258.6 523.1,262.32 523.5,258.25 523.9,263.1 524.3,264.04 524.7,260.23 525.1,255.62 525.5,253.57 525.9,262.88 526.3,260.92 526.7,260.92 527.1,259.44 527.5,260.01 527.9,259.44 528.3,254.54 528.7,259.54 529.1,259.98 529.5,258.86 529.9,258.63 530.3,261.09 530.7,257.32 531.1,256.74 531.5,257.77 531.9,261.68 532.3,256.29 532.7,259.69 533.1,258.93 533.5,264.17 533.9,263.51 534.3,260.4 534.7,264.98 535.1,260.82 535.5,261.2 535.9,261.46 536.3,258.59 536.7,261.66 537.1,261.55 537.5,257.52 537.9,255.21 538.3,264.88 538.7,258.54 539.1,260.5 539.5,263.3 539.9,256.89 540.3,255.29 540.7,255.4 541.1,262.36 541.5,260.9 541.9,259.1 542.3,264.1 542.7,255.99 543.1,254.77 543.5,262.75 543.9,256.47 544.3,264.39 544.7,258.89 545.1,260.58 545.5,258.96 545.9,262.34 546.3,258.04 546.7,257.94 547.1,264.92 547.5,262.73 547.9,261.63 548.3,259.94 548.7,261.5 549.1,259.38 549.5,261.34 549.9,258.05 550.3,263.25 550.7,260.04 551.1,257.91 551.5,259.15 551.9,259.74 552.3,260.75 552.7,261.84 553.1,256.9 553.5,260.16 553.9,257.73 554.3,261.56 554.7,260.49 555.1,257.13 555.5,258.42 555.9,259.1 556.3,260.58 556.7,255.5 557.1,258.93 557.5,258.25 557.9,260.9 558.3,257.12 558.7,260.04 559.1,258.49 559.5,260.9 559.9,259.23 560.3,258.98 560.7,259.55 561.1,264.99 561.5,265.5 561.9,260.68 562.3,261.14 562.7,258.29 563.1,266 563.5,259.13 563.9,257.79 564.3,259.05 564.7,255.99 565.1,256.69 565.5,262.16 565.9,260.84 566.3,256.18 566.7,263.01 567.1,257.91 567.5,258.98 567.9,260.88 568.3,256.83 568.7,259.34 569.1,259.27 569.5,255.37 569.9,261.27 570.3,260.01 570.7,258.93 571.1,261.13 571.5,257.67 571.9,259.65 572.3,257.72 572.7,259.55 573.1,264.1 573.5,262.79 573.9,257.4 574.3,254.66 574.7,262.7 575.1,260.17 575.5,259.67 575.9,260.26 576.3,261.27 576.7,261.98 577.1,260.95 577.5,262.97 577.9,259.98 578.3,260.92 578.7,263.11 579.1,258.28 579.5,261.32 579.9,259.23 580.3,260.52 580.7,261.96" fill="none" stroke="#ff0000" stroke-width="0.8" stroke-linejoin="round" stroke-linecap="round" stroke-linejoin="miter" stroke-miterlimit="2"/>
<polyline points="448.7,233.43 449.1,233.31 449.5,235.29 449.9,238.59 450.3,234.19 450.7,232.02 451.1,232.88 451.5,240.11 451.9,234.17 452.3,231.85 452.7,234.33 453.1,236.02 453.5,236.02 453.9,240.46 454.3,234.74 454.7,230.97 455.1,239.55 455.5,236.16 455.9,236.23 456.3,233.52 456.7,232.55 457.1,239.9 457.5,231.26 457.9,233.78 458.3,232.28 458.7,239.5 459.1,236.33 459.5,233.41 459.9,237.36 460.3,240.77 460.7,232.6 461.1,232.76 461.5,236.35 461.9,235.88 462.3,231.98 462.7,233.37 463.1,235.11 463.5,237.58 463.9,231 464.3,237.05 464.7,236.59 465.1,240.94 465.5,229.01 465.9,234.22 466.3,234.07 466.7,239.48 467.1,231.84 467.5,233.53 467.9,235.76 468.3,236.72 468.7,236.31 469.1,231.19 469.5,240.35 469.9,232.75 470.3,235.93 470.7,237.35 471.1,233.51 471.5,236.04 471.9,230.28 472.3,234.37 472.7,233.3 473.1,230.53 473.5,233.1 473.9,232.22 474.3,238.08 474.7,233.05 475.1,231.04 475.5,235.07 475.9,234.79 476.3,241.97 476.7,240.96 477.1,236.14 477.5,233.24 477.9,241.66 478.3,236.24 478.7,230.27 479.1,236.42 479.5,230.08 479.9,238.76 480.3,236.21 480.7,231.52 481.1,233.14 481.5,228.9 481.9,240.16 482.3,235.3 482.7,237.06 483.1,239.01 483.5,233.9 483.9,233.44 484.3,233.73 484.7,236.13 485.1,232.71 485.5,234.17 485.9,236.07 486.3,235.65 486.7,233.5 487.1,231.91 487.5,233.49 487.9,237.16 488.3,239.25 488.7,238.69 489.1,234.37 489.5,237.18 489.9,236.45 490.3,239.91 490.7,233.08 491.1,239.16 491.5,236.84 491.9,235.3 492.3,242.02 492.7,241.52 493.1,231.3 493.5,236.5 493.9,238.45 494.3,239.64 494.7,232.39 495.1,237.24 495.5,236.42 495.9,233.2 496.3,237.81 496.7,233.61 497.1,234.91 497.5,231.89 497.9,236.11 498.3,236.05 498.7,233.39 499.1,231.79 499.5,234.48 499.9,235.33 500.3,235.16 500.7,233.94 501.1,237.87 501.5,233.81 501.9,235.14 502.3,239.79 502.7,232.5 503.1,235.28 503.5,236.13 503.9,232.99 504.3,231.15 504.7,232.46 505.1,229.36 505.5,235.57 505.9,235.4 506.3,237.85 506.7,241.55 507.1,236.37 507.5,236.52 507.9,237.46 508.3,234.27 508.7,230.95 509.1,233.1 509.5,235.74 509.9,235.02 510.3,235.02 510.7,232.86 511.1,234.72 511.5,233.39 511.9,233.74 512.3,230.1 512.7,231.41 513.1,234.15 513.5,238.84 513.9,234.57 514.3,236.2 514.7,240.23 515.1,235.39 515.5,233.69 515.9,228.71 516.3,233.75 516.7,238.58 517.1,231.87 517.5,233.86 517.9,234.41 518.3,235.66 518.7,231.8 519.1,237.47 519.5,236.82 519.9,231.95 520.3,228.97 520.7,236.95 521.1,235.55 521.5,235.23 521.9,229.56 522.3,232.62 522.7,234.29 523.1,235.86 523.5,234.83 523.9,238.08 524.3,231.7 524.7,231.44 525.1,235 525.5,238.89 525.9,231.19 526.3,230.77 526.7,240.32 527.1,232.82 527.5,235.33 527.9,239.15 528.3,231.77 528.7,235.12 529.1,236.27 529.5,234.2 529.9,233.62 530.3,232.49 530.7,233.26 531.1,237.81 531.5,228.64 531.9,236.02 532.3,234.82 532.7,235.14 533.1,235.22 533.5,235.06 533.9,237.14 534.3,229.29 534.7,237.78 535.1,237.66 535.5,235.7 535.9,235.16 536.3,238.14 536.7,241.45 537.1,240.08 537.5,239.17 537.9,229.47 538.3,240.16 538.7,235.15 539.1,232.86 539.5,235.6 539.9,238.31 540.3,229.6 540.7,237.22 541.1,233.46 541.5,235.45 541.9,234.34 542.3,237.61 542.7,235.73 543.1,233.46 543.5,233.08 543.9,234.21 544.3,237.67 544.7,233.62 545.1,238.22 545.5,239.45 545.9,236.47 546.3,229.6 546.7,236.78 547.1,237.11 547.5,238.21 547.9,236.23 548.3,239.57 548.7,239.75 549.1,235.51 549.5,237.62 549.9,240.89 550.3,237.12 550.7,236.42 551.1,241.04 551.5,228.98 551.9,239.21 552.3,233.98 552.7,228.53 553.1,237.55 553.5,239.07 553.9,234.72 554.3,236.65 554.7,238.41 555.1,233.98 555.5,236.33 555.9,237.72 556.3,233.58 556.7,235.46 557.1,233.16 557.5,232.97 557.9,235.7 558.3,237.18 558.7,236.58 559.1,237.76 559.5,238.02 559.9,237.89 560.3,234.06 560.7,234.68 561.1,231.72 561.5,240.22 561.9,238.12 562.3,234.54 562.7,235.22 563.1,237.93 563.5,232.84 563.9,234.13 564.3,232.93 564.7,235.37 565.1,239.28 565.5,233.99 565.9,239.14 566.3,236.56 566.7,234.75 567.1,238.01 567.5,232.21 567.9,236.02 568.3,235.96 568.7,241.76 569.1,234.43 569.5,236.43 569.9,232.1 570.3,232.81 570.7,237.68 571.1,240.74 571.5,239.44 571.9,231.34 572.3,232.63 572.7,231.78 573.1,235.24 573.5,238.67 573.9,238 574.3,235.6 574.7,235.34 575.1,229.05 575.5,229 575.9,233.96 576.3,229.63 576.7,234.5 577.1,231.53 577.5,236.78 577.9,232.86 578.3,231.83 578.7,234.22 579.1,237.75 579.5,233.35 579.9,238.56 580.3,230.92 580.7,230.85" fill="none" stroke="#00ee00" stroke-width="0.8" stroke-linejoin="round" stroke-linecap="round" stroke-linejoin="miter" stroke-miterlimit="2"/>
<polyline points="448.7,208.34 449.1,211.35 449.5,209.19 449.9,207.2 450.3,212.26 450.7,209.32 451.1,210.43 451.5,212.33 451.9,216.48 452.3,208.98 452.7,211.82 453.1,212.84 453.5,211.05 453.9,213.43 454.3,214.89 454.7,212.9 455.1,211.39 455.5,213.87 455.9,211.1 456.3,211.33 456.7,210.57 457.1,211.67 457.5,209.54 457.9,213.6 458.3,209.77 458.7,212.83 459.1,210.24 459.5,208.26 459.9,208.58 460.3,209.89 460.7,209.44 461.1,212.91 461.5,212.95 461.9,208.44 462.3,210.05 462.7,211.24 463.1,209.04 463.5,211.39 463.9,209.16 464.3,211.8 464.7,209.25 465.1,215.4 465.5,209.79 465.9,209.89 466.3,212.37 466.7,208.63 467.1,208.44 467.5,210.68 467.9,213.88 468.3,207.05 468.7,210.55 469.1,210.15 469.5,211.36 469.9,210.19 470.3,212.19 470.7,213.23 471.1,210.86 471.5,210.3 471.9,213.1 472.3,213.17 472.7,206.82 473.1,210.81 473.5,211.53 473.9,214.87 474.3,206.1 474.7,210.94 475.1,208.13 475.5,210.81 475.9,204.2 476.3,211.68 476.7,215.08 477.1,211.85 477.5,211.65 477.9,211.33 478.3,216.32 478.7,210.28 479.1,206.52 479.5,210.25 479.9,211.81 480.3,211.58 480.7,211.28 481.1,208.66 481.5,210.91 481.9,209.75 482.3,206.64 482.7,213.29 483.1,214.81 483.5,213.08 483.9,216.36 484.3,212.19 484.7,213.85 485.1,209.53 485.5,205.91 485.9,208.17 486.3,213.1 486.7,209.76 487.1,206.75 487.5,210.72 487.9,217.43 488.3,216.4 488.7,215.18 489.1,212.07 489.5,209.43 489.9,211.88 490.3,213.08 490.7,211.96 491.1,216.47 491.5,210.23 491.9,210.3 492.3,210.88 492.7,207.28 493.1,211.72 493.5,207.09 493.9,210.31 494.3,209.17 494.7,212.62 495.1,214.59 495.5,205.33 495.9,212.77 496.3,208 496.7,212.27 497.1,207.86 497.5,213.91 497.9,215.21 498.3,210.88 498.7,208.14 499.1,209.94 499.5,206.96 499.9,211.56 500.3,213.74 500.7,209.45 501.1,212.49 501.5,212.2 501.9,210.64 502.3,214.09 502.7,211.91 503.1,210.52 503.5,212.09 503.9,212.18 504.3,212.6 504.7,211.06 505.1,213.3 505.5,211.63 505.9,214.03 506.3,216.5 506.7,216.48 507.1,208.78 507.5,210.46 507.9,205.68 508.3,207.2 508.7,207.29 509.1,211.76 509.5,211.66 509.9,207.93 510.3,207.19 510.7,210.49 511.1,212.57 511.5,211.31 511.9,211.74 512.3,210.88 512.7,216.5 513.1,212.83 513.5,210.31 513.9,208.61 514.3,208.52 514.7,210.67 515.1,207.21 515.5,215.6 515.9,213.66 516.3,212.81 516.7,213.4 517.1,210.65 517.5,211.51 517.9,208.92 518.3,207.85 518.7,207.33 519.1,213.7 519.5,209.2 519.9,210.47 520.3,208.71 520.7,216.63 521.1,209.33 521.5,209.62 521.9,208.14 522.3,209.94 522.7,209.85 523.1,215.12 523.5,206.61 523.9,214.2 524.3,211.45 524.7,204.27 525.1,208.49 525.5,213.68 525.9,211.33 526.3,209.69 526.7,208.62 527.1,209.66 527.5,212.57 527.9,210.16 528.3,214.23 528.7,215.69 529.1,211.21 529.5,213.98 529.9,207.37 530.3,209.9 530.7,214.57 531.1,213.05 531.5,214.87 531.9,212.24 532.3,212.84 532.7,210.38 533.1,208.53 533.5,214.91 533.9,212.53 534.3,215.94 534.7,210.51 535.1,215.7 535.5,210.16 535.9,212.09 536.3,211.03 536.7,212.72 537.1,209.35 537.5,213.14 537.9,209.7 538.3,208.3 538.7,209.45 539.1,209.28 539.5,212.29 539.9,211.48 540.3,212.41 540.7,208.22 541.1,204.4 541.5,215.94 541.9,208.91 542.3,209.04 542.7,209.44 543.1,204.09 543.5,209.36 543.9,210.44 544.3,213.65 544.7,214.7 545.1,204.28 545.5,211.16 545.9,211.59 546.3,206.73 546.7,206.46 547.1,208.03 547.5,210.72 547.9,207.97 548.3,213.64 548.7,211.39 549.1,213 549.5,213.65 549.9,215.46 550.3,209.46 550.7,216.42 551.1,210.97 551.5,209.67 551.9,211.75 552.3,211.41 552.7,204.63 553.1,209.82 553.5,213.67 553.9,209.88 554.3,211.45 554.7,213.93 555.1,209.81 555.5,210.22 555.9,212.13 556.3,211.65 556.7,209.01 557.1,209.44 557.5,207.88 557.9,208.94 558.3,212.69 558.7,211.39 559.1,211.77 559.5,210.39 559.9,216 560.3,212.68 560.7,214.99 561.1,211.93 561.5,206.75 561.9,207.23 562.3,212.17 562.7,212.07 563.1,213.81 563.5,210.15 563.9,206.86 564.3,211.28 564.7,212.71 565.1,212.65 565.5,212.27 565.9,208.32 566.3,211.37 566.7,208.64 567.1,209.74 567.5,210.61 567.9,209.73 568.3,216.87 568.7,211.01 569.1,212.6 569.5,207.03 569.9,207.02 570.3,208.96 570.7,213.37 571.1,211.71 571.5,212.36 571.9,217.14 572.3,214.39 572.7,210.46 573.1,213.97 573.5,208.05 573.9,207.83 574.3,216.61 574.7,210.3 575.1,209.14 575.5,211.32 575.9,209.37 576.3,206.75 576.7,207.31 577.1,208.82 577.5,209.59 577.9,207.94 578.3,209.29 578.7,206.73 579.1,208.44 579.5,208.81 579.9,212.18 580.3,211.86 580.7,210.97" fill="none" stroke="#1010ee" stroke-width="0.8" stroke-linejoin="round" stroke-linecap="round" stroke-linejoin="miter" stroke-miterlimit="2"/>
<polyline points="448.7,186.71 449.1,183.94 449.5,188.47 449.9,183.14 450.3,182.34 450.7,186.73 451.1,188.76 451.5,188.41 451.9,188.41 452.3,185.52 452.7,183.18 453.1,185.55 453.5,185.51 453.9,184.14 454.3,182.07 454.7,183.6 455.1,184.9 455.5,180.99 455.9,183.28 456.3,180.96 456.7,189.4 457.1,186.49 457.5,184.17 457.9,187.28 458.3,185.11 458.7,183.09 459.1,184.71 459.5,184.27 459.9,190.8 460.3,181.88 460.7,178.49 461.1,186.8 461.5,180.94 461.9,180.74 462.3,188.46 462.7,182.16 463.1,180.95 463.5,184.71 463.9,181.11 464.3,186.73 464.7,182.43 465.1,184.91 465.5,188.86 465.9,190.3 466.3,178.48 466.7,183.23 467.1,183.5 467.5,187.05 467.9,183.45 468.3,182.09 468.7,188.95 469.1,188.49 469.5,185.12 469.9,178.79 470.3,184.39 470.7,180.87 471.1,190.63 471.5,186.29 471.9,185.95 472.3,187.46 472.7,187.04 473.1,181.58 473.5,186.86 473.9,186.12 474.3,179.01 474.7,188.6 475.1,186.52 475.5,185.05 475.9,186.9 476.3,182.94 476.7,188.22 477.1,184 477.5,181.36 477.9,190.81 478.3,187.16 478.7,184.91 479.1,185.4 479.5,186.03 479.9,188.65 480.3,186.41 480.7,188.22 481.1,182.4 481.5,182.2 481.9,185.04 482.3,185.72 482.7,184.34 483.1,182.11 483.5,183.69 483.9,187.16 484.3,187.02 484.7,181.36 485.1,187.12 485.5,186.07 485.9,185.76 486.3,187.33 486.7,185.44 487.1,189.59 487.5,183.12 487.9,181.84 488.3,185.31 488.7,185.79 489.1,181.38 489.5,185.8 489.9,185.26 490.3,181.25 490.7,183.68 491.1,187.74 491.5,187.45 491.9,181.64 492.3,187.04 492.7,185.07 493.1,191.07 493.5,184.47 493.9,186.91 494.3,180.7 494.7,188.44 495.1,185.19 495.5,183.75 495.9,183.94 496.3,185 496.7,183.85 497.1,187.25 497.5,184.21 497.9,184.82 498.3,191.83 498.7,185.6 499.1,187.07 499.5,186.38 499.9,185.22 500.3,185.65 500.7,181.35 501.1,187.1 501.5,185.57 501.9,185.18 502.3,181.42 502.7,187.18 503.1,180.42 503.5,184.06 503.9,182.39 504.3,180.36 504.7,188.8 505.1,188.48 505.5,188.11 505.9,184.52 506.3,182.09 506.7,185.13 507.1,184.26 507.5,179.58 507.9,188.1 508.3,187.06 508.7,182.93 509.1,181.78 509.5,184.47 509.9,185.26 510.3,190.81 510.7,185.81 511.1,181.75 511.5,186.48 511.9,181.17 512.3,181.66 512.7,186.02 513.1,183.95 513.5,180.48 513.9,182.53 514.3,183.13 514.7,181.52 515.1,183.06 515.5,184.77 515.9,183.63 516.3,181.9 516.7,186.42 517.1,188.76 517.5,186.82 517.9,181.31 518.3,182.09 518.7,184.68 519.1,184.95 519.5,181.79 519.9,185.84 520.3,184.57 520.7,181.09 521.1,179.59 521.5,184.6 521.9,182.72 522.3,190.1 522.7,181.97 523.1,182.97 523.5,190.82 523.9,181.38 524.3,187.6 524.7,185.26 525.1,183.89 525.5,181.72 525.9,185.17 526.3,189.16 526.7,187.18 527.1,184.65 527.5,187.21 527.9,183.54 528.3,185.04 528.7,187.82 529.1,184.63 529.5,186.81 529.9,184.67 530.3,181.26 530.7,187.94 531.1,182.29 531.5,188.19 531.9,187.53 532.3,188.6 532.7,186.88 533.1,184.29 533.5,182.27 533.9,183.46 534.3,183.54 534.7,188.07 535.1,180.53 535.5,187.92 535.9,184.34 536.3,186.26 536.7,187.52 537.1,186.61 537.5,187.78 537.9,182.77 538.3,183.42 538.7,180.81 539.1,183.89 539.5,184.06 539.9,185.47 540.3,185.95 540.7,187.68 541.1,187.85 541.5,182.49 541.9,183.52 542.3,182.91 542.7,183.13 543.1,187.07 543.5,188.2 543.9,185.86 544.3,185.34 544.7,181.45 545.1,182.51 545.5,183.77 545.9,177.96 546.3,185.39 546.7,183.89 547.1,189.62 547.5,184.2 547.9,179.94 548.3,185.13 548.7,184.45 549.1,185.65 549.5,181.72 549.9,184.97 550.3,179.78 550.7,185.89 551.1,184.34 551.5,178.59 551.9,186.79 552.3,187.8 552.7,188.01 553.1,186.73 553.5,183.04 553.9,182.72 554.3,186.25 554.7,188.02 555.1,191.01 555.5,185.88 555.9,180.04 556.3,184.11 556.7,187.44 557.1,186.92 557.5,188.12 557.9,182.65 558.3,183.97 558.7,187.09 559.1,186.28 559.5,186.19 559.9,183.31 560.3,183.64 560.7,186.4 561.1,187.47 561.5,181.29 561.9,185.46 562.3,186.48 562.7,185.68 563.1,185.79 563.5,184.6 563.9,182.78 564.3,188.13 564.7,181.29 565.1,185.7 565.5,181.63 565.9,183.12 566.3,184.5 566.7,181.96 567.1,185.15 567.5,187.33 567.9,188.29 568.3,183.68 568.7,185.82 569.1,183.58 569.5,181.83 569.9,183.36 570.3,190.67 570.7,182.1 571.1,183.34 571.5,184.03 571.9,187.74 572.3,185.22 572.7,183.23 573.1,182.97 573.5,185.27 573.9,185.18 574.3,179.45 574.7,184.65 575.1,184.8 575.5,185.25 575.9,183.11 576.3,185.54 576.7,181.06 577.1,185.05 577.5,190.75 577.9,185.91 578.3,182.22 578.7,186.64 579.1,187.86 579.5,187.32 579.9,184.4 580.3,185.78 580.7,186.39" fill="none" stroke="#00f0f0" stroke-width="0.8" stroke-linejoin="round" stroke-linecap="round" stroke-linejoin="miter" stroke-miterlimit="2"/>
<rect x="448.7" y="162.8" width="139.6" height="111.3" fill="none" stroke="#484848" stroke-width="1.35" stroke-linejoin="round"/>
<line x1="448.7" y1="274.1" x2="448.7" y2="268.8" stroke="#484848" stroke-width="1.0" />
<line x1="448.7" y1="162.8" x2="448.7" y2="168.1" stroke="#484848" stroke-width="1.0" />
<line x1="470.18" y1="274.1" x2="470.18" y2="268.8" stroke="#484848" stroke-width="1.0" />
<line x1="470.18" y1="162.8" x2="470.18" y2="168.1" stroke="#484848" stroke-width="1.0" />
<line x1="491.65" y1="274.1" x2="491.65" y2="268.8" stroke="#484848" stroke-width="1.0" />
<line x1="491.65" y1="162.8" x2="491.65" y2="168.1" stroke="#484848" stroke-width="1.0" />
<line x1="513.13" y1="274.1" x2="513.13" y2="268.8" stroke="#484848" stroke-width="1.0" />
<line x1="513.13" y1="162.8" x2="513.13" y2="168.1" stroke="#484848" stroke-width="1.0" />
<line x1="534.61" y1="274.1" x2="534.61" y2="268.8" stroke="#484848" stroke-width="1.0" />
<line x1="534.61" y1="162.8" x2="534.61" y2="168.1" stroke="#484848" stroke-width="1.0" />
<line x1="556.08" y1="274.1" x2="556.08" y2="268.8" stroke="#484848" stroke-width="1.0" />
<line x1="556.08" y1="162.8" x2="556.08" y2="168.1" stroke="#484848" stroke-width="1.0" />
<line x1="577.56" y1="274.1" x2="577.56" y2="268.8" stroke="#484848" stroke-width="1.0" />
<line x1="577.56" y1="162.8" x2="577.56" y2="168.1" stroke="#484848" stroke-width="1.0" />
<line x1="459.44" y1="274.1" x2="459.44" y2="270.8" stroke="#484848" stroke-width="1.0" />
<line x1="459.44" y1="162.8" x2="459.44" y2="166.1" stroke="#484848" stroke-width="1.0" />
<line x1="480.92" y1="274.1" x2="480.92" y2="270.8" stroke="#484848" stroke-width="1.0" />
<line x1="480.92" y1="162.8" x2="480.92" y2="166.1" stroke="#484848" stroke-width="1.0" />
<line x1="502.39" y1="274.1" x2="502.39" y2="270.8" stroke="#484848" stroke-width="1.0" />
<line x1="502.39" y1="162.8" x2="502.39" y2="166.1" stroke="#484848" stroke-width="1.0" />
<line x1="523.87" y1="274.1" x2="523.87" y2="270.8" stroke="#484848" stroke-width="1.0" />
<line x1="523.87" y1="162.8" x2="523.87" y2="166.1" stroke="#484848" stroke-width="1.0" />
<line x1="545.35" y1="274.1" x2="545.35" y2="270.8" stroke="#484848" stroke-width="1.0" />
<line x1="545.35" y1="162.8" x2="545.35" y2="166.1" stroke="#484848" stroke-width="1.0" />
<line x1="566.82" y1="274.1" x2="566.82" y2="270.8" stroke="#484848" stroke-width="1.0" />
<line x1="566.82" y1="162.8" x2="566.82" y2="166.1" stroke="#484848" stroke-width="1.0" />
<line x1="448.7" y1="274.1" x2="453.7" y2="274.1" stroke="#484848" stroke-width="1.0" />
<line x1="588.3" y1="274.1" x2="583.3" y2="274.1" stroke="#484848" stroke-width="1.0" />
<line x1="448.7" y1="261.73" x2="453.7" y2="261.73" stroke="#484848" stroke-width="1.0" />
<line x1="588.3" y1="261.73" x2="583.3" y2="261.73" stroke="#484848" stroke-width="1.0" />
<line x1="448.7" y1="249.37" x2="453.7" y2="249.37" stroke="#484848" stroke-width="1.0" />
<line x1="588.3" y1="249.37" x2="583.3" y2="249.37" stroke="#484848" stroke-width="1.0" />
<line x1="448.7" y1="237" x2="453.7" y2="237" stroke="#484848" stroke-width="1.0" />
<line x1="588.3" y1="237" x2="583.3" y2="237" stroke="#484848" stroke-width="1.0" />
<line x1="448.7" y1="224.63" x2="453.7" y2="224.63" stroke="#484848" stroke-width="1.0" />
<line x1="588.3" y1="224.63" x2="583.3" y2="224.63" stroke="#484848" stroke-width="1.0" />
<line x1="448.7" y1="212.27" x2="453.7" y2="212.27" stroke="#484848" stroke-width="1.0" />
<line x1="588.3" y1="212.27" x2="583.3" y2="212.27" stroke="#484848" stroke-width="1.0" />
<line x1="448.7" y1="199.9" x2="453.7" y2="199.9" stroke="#484848" stroke-width="1.0" />
<line x1="588.3" y1="199.9" x2="583.3" y2="199.9" stroke="#484848" stroke-width="1.0" />
<line x1="448.7" y1="187.53" x2="453.7" y2="187.53" stroke="#484848" stroke-width="1.0" />
<line x1="588.3" y1="187.53" x2="583.3" y2="187.53" stroke="#484848" stroke-width="1.0" />
<line x1="448.7" y1="175.17" x2="453.7" y2="175.17" stroke="#484848" stroke-width="1.0" />
<line x1="588.3" y1="175.17" x2="583.3" y2="175.17" stroke="#484848" stroke-width="1.0" />
<line x1="448.7" y1="162.8" x2="453.7" y2="162.8" stroke="#484848" stroke-width="1.0" />
<line x1="588.3" y1="162.8" x2="583.3" y2="162.8" stroke="#484848" stroke-width="1.0" />
<line x1="448.7" y1="267.92" x2="452" y2="267.92" stroke="#484848" stroke-width="1.0" />
<line x1="588.3" y1="267.92" x2="585" y2="267.92" stroke="#484848" stroke-width="1.0" />
<line x1="448.7" y1="255.55" x2="452" y2="255.55" stroke="#484848" stroke-width="1.0" />
<line x1="588.3" y1="255.55" x2="585" y2="255.55" stroke="#484848" stroke-width="1.0" />
<line x1="448.7" y1="243.18" x2="452" y2="243.18" stroke="#484848" stroke-width="1.0" />
<line x1="588.3" y1="243.18" x2="585" y2="243.18" stroke="#484848" stroke-width="1.0" />
<line x1="448.7" y1="230.82" x2="452" y2="230.82" stroke="#484848" stroke-width="1.0" />
<line x1="588.3" y1="230.82" x2="585" y2="230.82" stroke="#484848" stroke-width="1.0" />
<line x1="448.7" y1="218.45" x2="452" y2="218.45" stroke="#484848" stroke-width="1.0" />
<line x1="588.3" y1="218.45" x2="585" y2="218.45" stroke="#484848" stroke-width="1.0" />
<line x1="448.7" y1="206.08" x2="452" y2="206.08" stroke="#484848" stroke-width="1.0" />
<line x1="588.3" y1="206.08" x2="585" y2="206.08" stroke="#484848" stroke-width="1.0" />
<line x1="448.7" y1="193.72" x2="452" y2="193.72" stroke="#484848" stroke-width="1.0" />
<line x1="588.3" y1="193.72" x2="585" y2="193.72" stroke="#484848" stroke-width="1.0" />
<line x1="448.7" y1="181.35" x2="452" y2="181.35" stroke="#484848" stroke-width="1.0" />
<line x1="588.3" y1="181.35" x2="585" y2="181.35" stroke="#484848" stroke-width="1.0" />
<line x1="448.7" y1="168.98" x2="452" y2="168.98" stroke="#484848" stroke-width="1.0" />
<line x1="588.3" y1="168.98" x2="585" y2="168.98" stroke="#484848" stroke-width="1.0" />
<text x="448.7" y="286.3" font-size="8.2" text-anchor="middle" fill="#000" stroke="#000" stroke-width="0.1" font-family='"Liberation Serif", serif' >0</text>
<text x="470.18" y="286.3" font-size="8.2" text-anchor="middle" fill="#000" stroke="#000" stroke-width="0.1" font-family='"Liberation Serif", serif' >1</text>
<text x="491.65" y="286.3" font-size="8.2" text-anchor="middle" fill="#000" stroke="#000" stroke-width="0.1" font-family='"Liberation Serif", serif' >2</text>
<text x="513.13" y="286.3" font-size="8.2" text-anchor="middle" fill="#000" stroke="#000" stroke-width="0.1" font-family='"Liberation Serif", serif' >3</text>
<text x="534.61" y="286.3" font-size="8.2" text-anchor="middle" fill="#000" stroke="#000" stroke-width="0.1" font-family='"Liberation Serif", serif' >4</text>
<text x="556.08" y="286.3" font-size="8.2" text-anchor="middle" fill="#000" stroke="#000" stroke-width="0.1" font-family='"Liberation Serif", serif' >5</text>
<text x="577.56" y="286.3" font-size="8.2" text-anchor="middle" fill="#000" stroke="#000" stroke-width="0.1" font-family='"Liberation Serif", serif' >6</text>
<text x="406.9" y="165.6" font-size="15" text-anchor="start" fill="#000" stroke="#000" stroke-width="0.15" font-family='"Liberation Serif", serif' >(f)</text>
<text x="445.3" y="203.3" font-size="8.2" text-anchor="end" fill="#000" stroke="#000" stroke-width="0.1" font-family='"Liberation Serif", serif' >1.0</text>
<text x="445.3" y="215.67" font-size="8.2" text-anchor="end" fill="#000" stroke="#000" stroke-width="0.1" font-family='"Liberation Serif", serif' >0.8</text>
<text x="445.3" y="228.03" font-size="8.2" text-anchor="end" fill="#000" stroke="#000" stroke-width="0.1" font-family='"Liberation Serif", serif' >0.6</text>
<text x="445.3" y="252.77" font-size="8.2" text-anchor="end" fill="#000" stroke="#000" stroke-width="0.1" font-family='"Liberation Serif", serif' >1.0</text>
<text x="445.3" y="265.13" font-size="8.2" text-anchor="end" fill="#000" stroke="#000" stroke-width="0.1" font-family='"Liberation Serif", serif' >0.8</text>
<text x="445.3" y="277.5" font-size="8.2" text-anchor="end" fill="#000" stroke="#000" stroke-width="0.1" font-family='"Liberation Serif", serif' >0.6</text>
<text x="592" y="178.57" font-size="8.2" text-anchor="start" fill="#000" stroke="#000" stroke-width="0.1" font-family='"Liberation Serif", serif' >1.0</text>
<text x="592" y="190.93" font-size="8.2" text-anchor="start" fill="#000" stroke="#000" stroke-width="0.1" font-family='"Liberation Serif", serif' >0.8</text>
<text x="592" y="203.3" font-size="8.2" text-anchor="start" fill="#000" stroke="#000" stroke-width="0.1" font-family='"Liberation Serif", serif' >0.6</text>
<text x="592" y="228.03" font-size="8.2" text-anchor="start" fill="#000" stroke="#000" stroke-width="0.1" font-family='"Liberation Serif", serif' >1.0</text>
<text x="592" y="240.4" font-size="8.2" text-anchor="start" fill="#000" stroke="#000" stroke-width="0.1" font-family='"Liberation Serif", serif' >0.8</text>
<text x="592" y="252.77" font-size="8.2" text-anchor="start" fill="#000" stroke="#000" stroke-width="0.1" font-family='"Liberation Serif", serif' >0.6</text>
<text x="573.5" y="198.1" font-size="8.6" text-anchor="middle" fill="#222" stroke="#222" stroke-width="0.1" font-family='"Liberation Serif", serif' >4</text>
<text x="573.5" y="221.8" font-size="8.6" text-anchor="middle" fill="#222" stroke="#222" stroke-width="0.1" font-family='"Liberation Serif", serif' >3</text>
<text x="573.5" y="247.1" font-size="8.6" text-anchor="middle" fill="#222" stroke="#222" stroke-width="0.1" font-family='"Liberation Serif", serif' >2</text>
<text x="573.5" y="271.1" font-size="8.6" text-anchor="middle" fill="#222" stroke="#222" stroke-width="0.1" font-family='"Liberation Serif", serif' >1</text>
<line x1="568.7" y1="178" x2="581.94" y2="178" stroke="#00f0f0" stroke-width="0.95" />
<polygon points="584.1,178 580.5,176.3 580.5,179.7" fill="#00f0f0"/>
<line x1="471" y1="202.7" x2="458.16" y2="202.7" stroke="#1010ee" stroke-width="0.95" />
<polygon points="456,202.7 459.6,201 459.6,204.4" fill="#1010ee"/>
<line x1="568.7" y1="228" x2="581.94" y2="228" stroke="#00ee00" stroke-width="0.95" />
<polygon points="584.1,228 580.5,226.3 580.5,229.7" fill="#00ee00"/>
<line x1="467" y1="252.5" x2="454.16" y2="252.5" stroke="#ff0000" stroke-width="0.95" />
<polygon points="452,252.5 455.6,250.8 455.6,254.2" fill="#ff0000"/>
<text transform="translate(429.7 222.4) rotate(-90)" font-size="14" text-anchor="middle" font-family='"Liberation Serif", serif' fill="#000" stroke="#000" stroke-width="0.25">r / R</text>
<text x="491.0" y="298.9" font-size="9.6" font-family='"Liberation Serif", serif' fill="#000" stroke="#000" stroke-width="0.18">2.5 1<tspan dx="0.5">0</tspan><tspan font-size="6.6" dy="-4.9" dx="0.3">7</tspan><tspan dy="4.9" dx="1.5">MCS</tspan></text>
</svg>
</body></html>
